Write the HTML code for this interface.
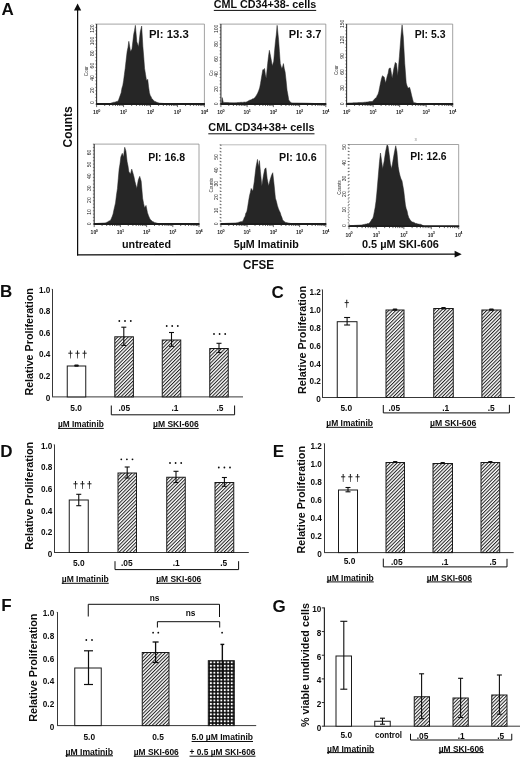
<!DOCTYPE html>
<html><head><meta charset="utf-8"><title>Figure</title>
<style>html,body{margin:0;padding:0;background:#fff;}svg{display:block;font-family:"Liberation Sans",sans-serif;will-change:transform;}</style>
</head><body>
<svg width="520" height="757" viewBox="0 0 520 757">
<defs>
<pattern id="hatch" width="2.47" height="2.47" patternUnits="userSpaceOnUse" patternTransform="rotate(-45)"><rect width="2.6" height="2.6" fill="#fff"/><rect x="0" y="0" width="2.6" height="1.02" fill="#222"/></pattern>
<pattern id="grid" x="209.15" y="660.55" width="3.47" height="3.47" patternUnits="userSpaceOnUse"><rect width="3.6" height="3.6" fill="#0d0d0d"/><rect x="0.78" y="0.78" width="1.94" height="1.94" fill="#fff"/></pattern>
</defs>
<rect width="520" height="757" fill="#fff"/>
<text x="1.50" y="14.80" font-size="17" text-anchor="start" font-weight="bold" fill="#0d0d0d" >A</text>
<line x1="77.60" y1="8.00" x2="77.60" y2="255.50" stroke="#0d0d0d" stroke-width="1.25"/>
<polygon points="77.6,3.4 74,10.5 81.2,10.5" fill="#0d0d0d"/>
<line x1="77.00" y1="254.85" x2="456.00" y2="254.15" stroke="#0d0d0d" stroke-width="1.4"/>
<polygon points="461.7,254.15 454.6,250.7 454.6,257.6" fill="#0d0d0d"/>
<text transform="translate(71.60,147.50) rotate(-90)" x="0" y="0" font-size="12" font-weight="bold" fill="#0d0d0d" textLength="41.20" lengthAdjust="spacingAndGlyphs">Counts</text>
<text x="243.00" y="269.40" font-size="12" font-weight="bold" fill="#0d0d0d" textLength="31.00" lengthAdjust="spacingAndGlyphs">CFSE</text>
<text x="213.80" y="8.10" font-size="11" font-weight="bold" fill="#0d0d0d" textLength="102.40" lengthAdjust="spacingAndGlyphs">CML CD34+38- cells</text>
<rect x="213.80" y="9.90" width="102.40" height="1" fill="#0d0d0d"/>
<text x="208.30" y="131.40" font-size="11" font-weight="bold" fill="#0d0d0d" textLength="106.20" lengthAdjust="spacingAndGlyphs">CML CD34+38+ cells</text>
<rect x="208.30" y="133.30" width="106.20" height="1" fill="#0d0d0d"/>
<text x="122.00" y="248.40" font-size="11" font-weight="bold" fill="#0d0d0d" textLength="49.00" lengthAdjust="spacingAndGlyphs">untreated</text>
<text x="233.70" y="248.20" font-size="11" font-weight="bold" fill="#0d0d0d" textLength="65.10" lengthAdjust="spacingAndGlyphs">5µM Imatinib</text>
<text x="362.00" y="248.20" font-size="11" font-weight="bold" fill="#0d0d0d" textLength="76.80" lengthAdjust="spacingAndGlyphs">0.5 µM SKI-606</text>
<polygon points="110.65,103.11 111.46,102.90 112.27,102.68 113.08,102.47 113.88,102.16 114.69,102.19 115.50,101.92 116.31,101.62 117.12,101.62 117.92,101.17 118.73,99.60 119.54,97.28 120.35,95.12 121.15,92.73 121.96,88.08 122.77,85.42 123.58,80.70 124.38,74.56 125.19,68.46 126.16,59.87 127.13,51.50 127.98,47.42 128.83,41.32 129.67,46.33 130.52,51.50 131.98,49.08 132.82,41.83 133.67,34.54 134.52,30.41 135.37,25.33 136.82,41.81 137.67,44.18 138.52,46.65 139.37,39.79 140.22,32.12 141.67,26.06 142.88,46.65 143.73,56.92 144.58,68.46 145.55,74.54 146.52,80.58 147.73,79.37 148.57,86.82 149.42,92.69 150.23,95.40 151.04,96.68 151.85,98.75 152.65,99.24 153.46,100.33 154.27,101.17 155.08,101.41 155.88,101.82 156.69,102.22 157.50,102.47 158.31,102.79 159.12,103.11 159.92,103.17 160.73,103.23 161.54,103.29 162.35,103.35 163.15,103.41 163.96,103.47 164.77,103.54 165.58,103.60 166.38,103.66 167.19,103.72 168.00,103.78 168.81,103.84 168.00,103.84 167.19,103.84 166.38,103.84 165.58,103.84 164.77,103.84 163.96,103.84 163.15,103.84 162.35,103.84 161.54,103.84 160.73,103.84 159.92,103.84 159.12,103.84 158.31,103.84 157.50,103.84 156.69,103.84 155.88,103.84 155.08,103.84 154.27,103.84 153.46,103.84 152.65,103.84 151.85,103.84 151.04,103.84 150.23,103.84 149.42,103.84 148.62,103.84 147.81,103.84 147.00,103.84 146.19,103.84 145.38,103.84 144.58,103.84 143.77,103.84 142.96,103.84 142.15,103.84 141.35,103.84 140.54,103.84 139.73,103.84 138.92,103.84 138.12,103.84 137.31,103.84 136.50,103.84 135.69,103.84 134.88,103.84 134.08,103.84 133.27,103.84 132.46,103.84 131.65,103.84 130.85,103.84 130.04,103.84 129.23,103.84 128.42,103.84 127.62,103.84 126.81,103.84 126.00,103.84 125.19,103.84 124.38,103.84 123.58,103.84 122.77,103.84 121.96,103.84 121.15,103.84 120.35,103.84 119.54,103.84 118.73,103.84 117.92,103.84 117.12,103.84 116.31,103.84 115.50,103.84 114.69,103.84 113.88,103.84 113.08,103.84 112.27,103.84 111.46,103.84 110.65,103.84" fill="#262626" stroke="#262626" stroke-width="0.5" stroke-linejoin="round"/>
<line x1="96.60" y1="24.10" x2="204.40" y2="24.10" stroke="#8c8c8c" stroke-width="0.8"/>
<line x1="204.40" y1="24.10" x2="204.40" y2="104.10" stroke="#8a8a8a" stroke-width="0.8"/>
<line x1="96.60" y1="24.10" x2="96.60" y2="104.10" stroke="#333" stroke-width="1.1"/>
<line x1="96.10" y1="104.00" x2="204.90" y2="104.00" stroke="#1c1c1c" stroke-width="1.9"/>
<line x1="95.30" y1="104.10" x2="96.60" y2="104.10" stroke="#333" stroke-width="0.6"/>
<line x1="95.30" y1="100.77" x2="96.60" y2="100.77" stroke="#333" stroke-width="0.6"/>
<line x1="95.30" y1="97.43" x2="96.60" y2="97.43" stroke="#333" stroke-width="0.6"/>
<line x1="95.30" y1="94.10" x2="96.60" y2="94.10" stroke="#333" stroke-width="0.6"/>
<line x1="95.30" y1="90.77" x2="96.60" y2="90.77" stroke="#333" stroke-width="0.6"/>
<line x1="95.30" y1="87.43" x2="96.60" y2="87.43" stroke="#333" stroke-width="0.6"/>
<line x1="95.30" y1="84.10" x2="96.60" y2="84.10" stroke="#333" stroke-width="0.6"/>
<line x1="95.30" y1="80.77" x2="96.60" y2="80.77" stroke="#333" stroke-width="0.6"/>
<line x1="95.30" y1="77.43" x2="96.60" y2="77.43" stroke="#333" stroke-width="0.6"/>
<line x1="95.30" y1="74.10" x2="96.60" y2="74.10" stroke="#333" stroke-width="0.6"/>
<line x1="95.30" y1="70.77" x2="96.60" y2="70.77" stroke="#333" stroke-width="0.6"/>
<line x1="95.30" y1="67.43" x2="96.60" y2="67.43" stroke="#333" stroke-width="0.6"/>
<line x1="95.30" y1="64.10" x2="96.60" y2="64.10" stroke="#333" stroke-width="0.6"/>
<line x1="95.30" y1="60.77" x2="96.60" y2="60.77" stroke="#333" stroke-width="0.6"/>
<line x1="95.30" y1="57.43" x2="96.60" y2="57.43" stroke="#333" stroke-width="0.6"/>
<line x1="95.30" y1="54.10" x2="96.60" y2="54.10" stroke="#333" stroke-width="0.6"/>
<line x1="95.30" y1="50.77" x2="96.60" y2="50.77" stroke="#333" stroke-width="0.6"/>
<line x1="95.30" y1="47.43" x2="96.60" y2="47.43" stroke="#333" stroke-width="0.6"/>
<line x1="95.30" y1="44.10" x2="96.60" y2="44.10" stroke="#333" stroke-width="0.6"/>
<line x1="95.30" y1="40.77" x2="96.60" y2="40.77" stroke="#333" stroke-width="0.6"/>
<line x1="95.30" y1="37.43" x2="96.60" y2="37.43" stroke="#333" stroke-width="0.6"/>
<line x1="95.30" y1="34.10" x2="96.60" y2="34.10" stroke="#333" stroke-width="0.6"/>
<line x1="95.30" y1="30.77" x2="96.60" y2="30.77" stroke="#333" stroke-width="0.6"/>
<line x1="95.30" y1="27.43" x2="96.60" y2="27.43" stroke="#333" stroke-width="0.6"/>
<line x1="95.30" y1="24.10" x2="96.60" y2="24.10" stroke="#333" stroke-width="0.6"/>
<line x1="96.60" y1="104.10" x2="96.60" y2="107.10" stroke="#222" stroke-width="0.7"/>
<line x1="104.71" y1="104.10" x2="104.71" y2="106.00" stroke="#222" stroke-width="0.7"/>
<line x1="109.46" y1="104.10" x2="109.46" y2="106.00" stroke="#222" stroke-width="0.7"/>
<line x1="112.83" y1="104.10" x2="112.83" y2="106.00" stroke="#222" stroke-width="0.7"/>
<line x1="115.44" y1="104.10" x2="115.44" y2="106.00" stroke="#222" stroke-width="0.7"/>
<line x1="117.57" y1="104.10" x2="117.57" y2="106.00" stroke="#222" stroke-width="0.7"/>
<line x1="119.38" y1="104.10" x2="119.38" y2="106.00" stroke="#222" stroke-width="0.7"/>
<line x1="120.94" y1="104.10" x2="120.94" y2="106.00" stroke="#222" stroke-width="0.7"/>
<line x1="122.32" y1="104.10" x2="122.32" y2="106.00" stroke="#222" stroke-width="0.7"/>
<line x1="123.55" y1="104.10" x2="123.55" y2="107.10" stroke="#222" stroke-width="0.7"/>
<line x1="131.66" y1="104.10" x2="131.66" y2="106.00" stroke="#222" stroke-width="0.7"/>
<line x1="136.41" y1="104.10" x2="136.41" y2="106.00" stroke="#222" stroke-width="0.7"/>
<line x1="139.78" y1="104.10" x2="139.78" y2="106.00" stroke="#222" stroke-width="0.7"/>
<line x1="142.39" y1="104.10" x2="142.39" y2="106.00" stroke="#222" stroke-width="0.7"/>
<line x1="144.52" y1="104.10" x2="144.52" y2="106.00" stroke="#222" stroke-width="0.7"/>
<line x1="146.33" y1="104.10" x2="146.33" y2="106.00" stroke="#222" stroke-width="0.7"/>
<line x1="147.89" y1="104.10" x2="147.89" y2="106.00" stroke="#222" stroke-width="0.7"/>
<line x1="149.27" y1="104.10" x2="149.27" y2="106.00" stroke="#222" stroke-width="0.7"/>
<line x1="150.50" y1="104.10" x2="150.50" y2="107.10" stroke="#222" stroke-width="0.7"/>
<line x1="158.61" y1="104.10" x2="158.61" y2="106.00" stroke="#222" stroke-width="0.7"/>
<line x1="163.36" y1="104.10" x2="163.36" y2="106.00" stroke="#222" stroke-width="0.7"/>
<line x1="166.73" y1="104.10" x2="166.73" y2="106.00" stroke="#222" stroke-width="0.7"/>
<line x1="169.34" y1="104.10" x2="169.34" y2="106.00" stroke="#222" stroke-width="0.7"/>
<line x1="171.47" y1="104.10" x2="171.47" y2="106.00" stroke="#222" stroke-width="0.7"/>
<line x1="173.28" y1="104.10" x2="173.28" y2="106.00" stroke="#222" stroke-width="0.7"/>
<line x1="174.84" y1="104.10" x2="174.84" y2="106.00" stroke="#222" stroke-width="0.7"/>
<line x1="176.22" y1="104.10" x2="176.22" y2="106.00" stroke="#222" stroke-width="0.7"/>
<line x1="177.45" y1="104.10" x2="177.45" y2="107.10" stroke="#222" stroke-width="0.7"/>
<line x1="185.56" y1="104.10" x2="185.56" y2="106.00" stroke="#222" stroke-width="0.7"/>
<line x1="190.31" y1="104.10" x2="190.31" y2="106.00" stroke="#222" stroke-width="0.7"/>
<line x1="193.68" y1="104.10" x2="193.68" y2="106.00" stroke="#222" stroke-width="0.7"/>
<line x1="196.29" y1="104.10" x2="196.29" y2="106.00" stroke="#222" stroke-width="0.7"/>
<line x1="198.42" y1="104.10" x2="198.42" y2="106.00" stroke="#222" stroke-width="0.7"/>
<line x1="200.23" y1="104.10" x2="200.23" y2="106.00" stroke="#222" stroke-width="0.7"/>
<line x1="201.79" y1="104.10" x2="201.79" y2="106.00" stroke="#222" stroke-width="0.7"/>
<line x1="203.17" y1="104.10" x2="203.17" y2="106.00" stroke="#222" stroke-width="0.7"/>
<line x1="204.40" y1="104.10" x2="204.40" y2="107.10" stroke="#222" stroke-width="0.7"/>
<text x="95.80" y="114.40" font-size="5" text-anchor="middle" font-weight="bold" fill="#222">10</text>
<text x="99.20" y="111.70" font-size="3.8" text-anchor="middle" font-weight="bold" fill="#222">0</text>
<text x="122.75" y="114.40" font-size="5" text-anchor="middle" font-weight="bold" fill="#222">10</text>
<text x="126.15" y="111.70" font-size="3.8" text-anchor="middle" font-weight="bold" fill="#222">1</text>
<text x="149.70" y="114.40" font-size="5" text-anchor="middle" font-weight="bold" fill="#222">10</text>
<text x="153.10" y="111.70" font-size="3.8" text-anchor="middle" font-weight="bold" fill="#222">2</text>
<text x="176.65" y="114.40" font-size="5" text-anchor="middle" font-weight="bold" fill="#222">10</text>
<text x="180.05" y="111.70" font-size="3.8" text-anchor="middle" font-weight="bold" fill="#222">3</text>
<text x="203.60" y="114.40" font-size="5" text-anchor="middle" font-weight="bold" fill="#222">10</text>
<text x="207.00" y="111.70" font-size="3.8" text-anchor="middle" font-weight="bold" fill="#222">4</text>
<text transform="translate(93.50,102.50) rotate(-90)" font-size="5" text-anchor="middle" font-weight="normal" fill="#1e1e1e">0</text>
<text transform="translate(93.50,90.20) rotate(-90)" font-size="5" text-anchor="middle" font-weight="normal" fill="#1e1e1e">20</text>
<text transform="translate(93.50,77.90) rotate(-90)" font-size="5" text-anchor="middle" font-weight="normal" fill="#1e1e1e">40</text>
<text transform="translate(93.50,65.60) rotate(-90)" font-size="5" text-anchor="middle" font-weight="normal" fill="#1e1e1e">60</text>
<text transform="translate(93.50,53.30) rotate(-90)" font-size="5" text-anchor="middle" font-weight="normal" fill="#1e1e1e">80</text>
<text transform="translate(93.50,41.00) rotate(-90)" font-size="5" text-anchor="middle" font-weight="normal" fill="#1e1e1e">100</text>
<text transform="translate(93.50,28.70) rotate(-90)" font-size="5" text-anchor="middle" font-weight="normal" fill="#1e1e1e">120</text>
<text transform="translate(88.40,71.20) rotate(-90)" font-size="4.6" text-anchor="middle" font-weight="normal" fill="#2a2a2a">Cour</text>
<text x="149.00" y="38.20" font-size="11.4" font-weight="bold" fill="#0d0d0d" textLength="39.70" lengthAdjust="spacingAndGlyphs">PI: 13.3</text>
<polygon points="221.63,103.84 222.12,97.54 223.33,102.38 224.17,102.42 225.00,102.46 225.84,102.50 226.68,102.53 227.52,102.57 228.36,102.61 229.20,102.65 230.04,102.68 230.88,102.72 231.71,102.76 232.55,102.79 233.39,102.83 234.23,102.87 235.04,102.80 235.85,102.74 236.65,102.68 237.46,102.61 238.27,102.55 239.08,102.48 239.88,102.42 240.69,102.35 241.50,102.31 242.31,102.39 243.12,102.29 243.92,102.16 244.73,102.09 245.54,102.16 246.35,101.90 247.15,101.77 247.96,101.06 248.77,100.70 249.58,100.24 250.38,100.01 251.19,99.74 252.00,99.36 252.81,98.72 253.62,98.75 254.52,97.77 255.43,97.09 256.34,95.42 257.25,93.90 258.06,92.24 258.87,90.16 259.67,87.85 260.52,83.50 261.37,78.15 262.82,69.67 263.67,69.74 264.52,68.46 265.37,74.56 266.22,78.15 267.67,63.62 268.52,56.23 269.37,50.29 270.58,56.35 271.42,60.81 272.27,66.04 273.73,61.19 274.57,50.90 275.42,41.81 276.27,34.82 277.12,25.33 278.57,39.38 279.42,51.26 280.27,63.62 281.72,68.46 282.57,67.01 283.42,63.62 284.27,68.62 285.12,72.10 286.08,80.43 287.05,90.27 287.90,94.75 288.75,99.96 289.56,101.12 290.37,101.96 291.17,102.87 292.01,102.88 292.84,102.90 293.67,102.91 294.50,102.93 295.34,102.94 296.17,102.96 297.00,102.97 297.84,102.99 298.67,103.01 299.50,103.02 300.33,103.04 301.17,103.05 302.00,103.07 302.83,103.08 303.67,103.10 304.50,103.11 305.31,103.14 306.12,103.17 306.92,103.20 307.73,103.23 308.54,103.26 309.35,103.29 310.15,103.32 310.96,103.35 311.77,103.38 312.58,103.41 313.38,103.44 314.19,103.47 315.00,103.50 315.81,103.54 316.61,103.57 317.42,103.60 318.23,103.63 319.04,103.66 319.85,103.69 320.65,103.72 321.46,103.75 322.27,103.78 323.08,103.81 323.88,103.84" fill="#262626" stroke="#262626" stroke-width="0.5" stroke-linejoin="round"/>
<line x1="220.90" y1="24.10" x2="325.80" y2="24.10" stroke="#8c8c8c" stroke-width="0.8"/>
<line x1="325.80" y1="24.10" x2="325.80" y2="104.10" stroke="#8a8a8a" stroke-width="0.8"/>
<line x1="220.90" y1="24.10" x2="220.90" y2="104.10" stroke="#333" stroke-width="1.1"/>
<line x1="220.40" y1="104.00" x2="326.30" y2="104.00" stroke="#1c1c1c" stroke-width="1.9"/>
<line x1="219.60" y1="104.10" x2="220.90" y2="104.10" stroke="#333" stroke-width="0.6"/>
<line x1="219.60" y1="100.77" x2="220.90" y2="100.77" stroke="#333" stroke-width="0.6"/>
<line x1="219.60" y1="97.43" x2="220.90" y2="97.43" stroke="#333" stroke-width="0.6"/>
<line x1="219.60" y1="94.10" x2="220.90" y2="94.10" stroke="#333" stroke-width="0.6"/>
<line x1="219.60" y1="90.77" x2="220.90" y2="90.77" stroke="#333" stroke-width="0.6"/>
<line x1="219.60" y1="87.43" x2="220.90" y2="87.43" stroke="#333" stroke-width="0.6"/>
<line x1="219.60" y1="84.10" x2="220.90" y2="84.10" stroke="#333" stroke-width="0.6"/>
<line x1="219.60" y1="80.77" x2="220.90" y2="80.77" stroke="#333" stroke-width="0.6"/>
<line x1="219.60" y1="77.43" x2="220.90" y2="77.43" stroke="#333" stroke-width="0.6"/>
<line x1="219.60" y1="74.10" x2="220.90" y2="74.10" stroke="#333" stroke-width="0.6"/>
<line x1="219.60" y1="70.77" x2="220.90" y2="70.77" stroke="#333" stroke-width="0.6"/>
<line x1="219.60" y1="67.43" x2="220.90" y2="67.43" stroke="#333" stroke-width="0.6"/>
<line x1="219.60" y1="64.10" x2="220.90" y2="64.10" stroke="#333" stroke-width="0.6"/>
<line x1="219.60" y1="60.77" x2="220.90" y2="60.77" stroke="#333" stroke-width="0.6"/>
<line x1="219.60" y1="57.43" x2="220.90" y2="57.43" stroke="#333" stroke-width="0.6"/>
<line x1="219.60" y1="54.10" x2="220.90" y2="54.10" stroke="#333" stroke-width="0.6"/>
<line x1="219.60" y1="50.77" x2="220.90" y2="50.77" stroke="#333" stroke-width="0.6"/>
<line x1="219.60" y1="47.43" x2="220.90" y2="47.43" stroke="#333" stroke-width="0.6"/>
<line x1="219.60" y1="44.10" x2="220.90" y2="44.10" stroke="#333" stroke-width="0.6"/>
<line x1="219.60" y1="40.77" x2="220.90" y2="40.77" stroke="#333" stroke-width="0.6"/>
<line x1="219.60" y1="37.43" x2="220.90" y2="37.43" stroke="#333" stroke-width="0.6"/>
<line x1="219.60" y1="34.10" x2="220.90" y2="34.10" stroke="#333" stroke-width="0.6"/>
<line x1="219.60" y1="30.77" x2="220.90" y2="30.77" stroke="#333" stroke-width="0.6"/>
<line x1="219.60" y1="27.43" x2="220.90" y2="27.43" stroke="#333" stroke-width="0.6"/>
<line x1="219.60" y1="24.10" x2="220.90" y2="24.10" stroke="#333" stroke-width="0.6"/>
<line x1="220.90" y1="104.10" x2="220.90" y2="107.10" stroke="#222" stroke-width="0.7"/>
<line x1="228.79" y1="104.10" x2="228.79" y2="106.00" stroke="#222" stroke-width="0.7"/>
<line x1="233.41" y1="104.10" x2="233.41" y2="106.00" stroke="#222" stroke-width="0.7"/>
<line x1="236.69" y1="104.10" x2="236.69" y2="106.00" stroke="#222" stroke-width="0.7"/>
<line x1="239.23" y1="104.10" x2="239.23" y2="106.00" stroke="#222" stroke-width="0.7"/>
<line x1="241.31" y1="104.10" x2="241.31" y2="106.00" stroke="#222" stroke-width="0.7"/>
<line x1="243.06" y1="104.10" x2="243.06" y2="106.00" stroke="#222" stroke-width="0.7"/>
<line x1="244.58" y1="104.10" x2="244.58" y2="106.00" stroke="#222" stroke-width="0.7"/>
<line x1="245.93" y1="104.10" x2="245.93" y2="106.00" stroke="#222" stroke-width="0.7"/>
<line x1="247.12" y1="104.10" x2="247.12" y2="107.10" stroke="#222" stroke-width="0.7"/>
<line x1="255.02" y1="104.10" x2="255.02" y2="106.00" stroke="#222" stroke-width="0.7"/>
<line x1="259.64" y1="104.10" x2="259.64" y2="106.00" stroke="#222" stroke-width="0.7"/>
<line x1="262.91" y1="104.10" x2="262.91" y2="106.00" stroke="#222" stroke-width="0.7"/>
<line x1="265.46" y1="104.10" x2="265.46" y2="106.00" stroke="#222" stroke-width="0.7"/>
<line x1="267.53" y1="104.10" x2="267.53" y2="106.00" stroke="#222" stroke-width="0.7"/>
<line x1="269.29" y1="104.10" x2="269.29" y2="106.00" stroke="#222" stroke-width="0.7"/>
<line x1="270.81" y1="104.10" x2="270.81" y2="106.00" stroke="#222" stroke-width="0.7"/>
<line x1="272.15" y1="104.10" x2="272.15" y2="106.00" stroke="#222" stroke-width="0.7"/>
<line x1="273.35" y1="104.10" x2="273.35" y2="107.10" stroke="#222" stroke-width="0.7"/>
<line x1="281.24" y1="104.10" x2="281.24" y2="106.00" stroke="#222" stroke-width="0.7"/>
<line x1="285.86" y1="104.10" x2="285.86" y2="106.00" stroke="#222" stroke-width="0.7"/>
<line x1="289.14" y1="104.10" x2="289.14" y2="106.00" stroke="#222" stroke-width="0.7"/>
<line x1="291.68" y1="104.10" x2="291.68" y2="106.00" stroke="#222" stroke-width="0.7"/>
<line x1="293.76" y1="104.10" x2="293.76" y2="106.00" stroke="#222" stroke-width="0.7"/>
<line x1="295.51" y1="104.10" x2="295.51" y2="106.00" stroke="#222" stroke-width="0.7"/>
<line x1="297.03" y1="104.10" x2="297.03" y2="106.00" stroke="#222" stroke-width="0.7"/>
<line x1="298.38" y1="104.10" x2="298.38" y2="106.00" stroke="#222" stroke-width="0.7"/>
<line x1="299.58" y1="104.10" x2="299.58" y2="107.10" stroke="#222" stroke-width="0.7"/>
<line x1="307.47" y1="104.10" x2="307.47" y2="106.00" stroke="#222" stroke-width="0.7"/>
<line x1="312.09" y1="104.10" x2="312.09" y2="106.00" stroke="#222" stroke-width="0.7"/>
<line x1="315.36" y1="104.10" x2="315.36" y2="106.00" stroke="#222" stroke-width="0.7"/>
<line x1="317.91" y1="104.10" x2="317.91" y2="106.00" stroke="#222" stroke-width="0.7"/>
<line x1="319.98" y1="104.10" x2="319.98" y2="106.00" stroke="#222" stroke-width="0.7"/>
<line x1="321.74" y1="104.10" x2="321.74" y2="106.00" stroke="#222" stroke-width="0.7"/>
<line x1="323.26" y1="104.10" x2="323.26" y2="106.00" stroke="#222" stroke-width="0.7"/>
<line x1="324.60" y1="104.10" x2="324.60" y2="106.00" stroke="#222" stroke-width="0.7"/>
<line x1="325.80" y1="104.10" x2="325.80" y2="107.10" stroke="#222" stroke-width="0.7"/>
<text x="220.10" y="114.40" font-size="5" text-anchor="middle" font-weight="bold" fill="#222">10</text>
<text x="223.50" y="111.70" font-size="3.8" text-anchor="middle" font-weight="bold" fill="#222">0</text>
<text x="246.32" y="114.40" font-size="5" text-anchor="middle" font-weight="bold" fill="#222">10</text>
<text x="249.72" y="111.70" font-size="3.8" text-anchor="middle" font-weight="bold" fill="#222">1</text>
<text x="272.55" y="114.40" font-size="5" text-anchor="middle" font-weight="bold" fill="#222">10</text>
<text x="275.95" y="111.70" font-size="3.8" text-anchor="middle" font-weight="bold" fill="#222">2</text>
<text x="298.78" y="114.40" font-size="5" text-anchor="middle" font-weight="bold" fill="#222">10</text>
<text x="302.18" y="111.70" font-size="3.8" text-anchor="middle" font-weight="bold" fill="#222">3</text>
<text x="325.00" y="114.40" font-size="5" text-anchor="middle" font-weight="bold" fill="#222">10</text>
<text x="328.40" y="111.70" font-size="3.8" text-anchor="middle" font-weight="bold" fill="#222">4</text>
<text transform="translate(217.80,103.90) rotate(-90)" font-size="5" text-anchor="middle" font-weight="normal" fill="#1e1e1e">0</text>
<text transform="translate(217.80,88.90) rotate(-90)" font-size="5" text-anchor="middle" font-weight="normal" fill="#1e1e1e">20</text>
<text transform="translate(217.80,73.90) rotate(-90)" font-size="5" text-anchor="middle" font-weight="normal" fill="#1e1e1e">40</text>
<text transform="translate(217.80,58.90) rotate(-90)" font-size="5" text-anchor="middle" font-weight="normal" fill="#1e1e1e">60</text>
<text transform="translate(217.80,43.90) rotate(-90)" font-size="5" text-anchor="middle" font-weight="normal" fill="#1e1e1e">80</text>
<text transform="translate(217.80,28.90) rotate(-90)" font-size="5" text-anchor="middle" font-weight="normal" fill="#1e1e1e">100</text>
<text transform="translate(212.70,73.10) rotate(-90)" font-size="4.6" text-anchor="middle" font-weight="normal" fill="#2a2a2a">Co</text>
<text x="288.75" y="38.20" font-size="11.4" font-weight="bold" fill="#0d0d0d" textLength="32.75" lengthAdjust="spacingAndGlyphs">PI: 3.7</text>
<polygon points="347.33,103.84 347.33,103.11 348.16,103.07 348.98,103.03 349.81,103.00 350.64,102.96 351.47,102.92 352.30,102.88 353.13,102.84 353.96,102.81 354.79,102.77 355.62,102.73 356.45,102.69 357.27,102.65 358.10,102.61 358.93,102.58 359.76,102.54 360.59,102.50 361.42,102.46 362.25,102.42 363.08,102.38 363.88,102.37 364.69,102.19 365.50,102.17 366.31,102.12 367.12,101.96 367.92,101.93 368.73,101.80 369.54,101.55 370.35,101.61 371.15,101.51 371.96,101.52 372.77,101.17 373.68,100.07 374.59,99.09 375.50,98.12 376.40,97.54 377.21,95.46 378.02,94.21 378.83,91.48 379.67,87.19 380.52,83.00 381.49,78.47 382.46,75.73 383.31,76.44 384.16,76.94 385.61,83.00 386.46,79.30 387.31,75.73 388.16,73.18 389.00,68.46 390.46,67.98 391.31,72.94 392.15,78.15 393.00,73.52 393.85,68.46 395.30,62.40 396.52,63.62 397.73,75.73 398.57,66.14 399.42,56.35 400.27,44.90 401.12,34.54 402.09,24.85 403.30,36.96 404.75,63.62 406.21,83.00 407.06,85.87 407.90,87.85 408.75,87.94 409.60,87.36 410.57,90.76 411.54,95.12 412.51,98.91 413.48,102.38 414.30,102.63 415.12,102.87 415.95,103.11 416.77,103.35 417.60,103.60 418.41,103.60 419.23,103.61 420.05,103.61 420.87,103.62 421.68,103.63 422.50,103.63 423.32,103.64 424.14,103.64 424.96,103.65 425.77,103.66 426.59,103.66 427.41,103.67 428.23,103.67 429.04,103.68 429.86,103.69 430.68,103.69 431.50,103.70 432.32,103.70 433.13,103.71 433.95,103.72 434.77,103.72 435.59,103.73 436.40,103.74 437.22,103.74 438.04,103.75 438.86,103.75 439.68,103.76 440.49,103.77 441.31,103.77 442.13,103.78 442.95,103.78 443.76,103.79 444.58,103.80 445.40,103.80 446.22,103.81 447.04,103.81 447.85,103.82 448.67,103.83 449.49,103.83 450.31,103.84" fill="#262626" stroke="#262626" stroke-width="0.5" stroke-linejoin="round"/>
<line x1="346.60" y1="24.10" x2="452.70" y2="24.10" stroke="#8c8c8c" stroke-width="0.8"/>
<line x1="452.70" y1="24.10" x2="452.70" y2="104.10" stroke="#8a8a8a" stroke-width="0.8"/>
<line x1="346.60" y1="24.10" x2="346.60" y2="104.10" stroke="#333" stroke-width="1.1"/>
<line x1="346.10" y1="104.00" x2="453.20" y2="104.00" stroke="#1c1c1c" stroke-width="1.9"/>
<line x1="345.30" y1="104.10" x2="346.60" y2="104.10" stroke="#333" stroke-width="0.6"/>
<line x1="345.30" y1="100.77" x2="346.60" y2="100.77" stroke="#333" stroke-width="0.6"/>
<line x1="345.30" y1="97.43" x2="346.60" y2="97.43" stroke="#333" stroke-width="0.6"/>
<line x1="345.30" y1="94.10" x2="346.60" y2="94.10" stroke="#333" stroke-width="0.6"/>
<line x1="345.30" y1="90.77" x2="346.60" y2="90.77" stroke="#333" stroke-width="0.6"/>
<line x1="345.30" y1="87.43" x2="346.60" y2="87.43" stroke="#333" stroke-width="0.6"/>
<line x1="345.30" y1="84.10" x2="346.60" y2="84.10" stroke="#333" stroke-width="0.6"/>
<line x1="345.30" y1="80.77" x2="346.60" y2="80.77" stroke="#333" stroke-width="0.6"/>
<line x1="345.30" y1="77.43" x2="346.60" y2="77.43" stroke="#333" stroke-width="0.6"/>
<line x1="345.30" y1="74.10" x2="346.60" y2="74.10" stroke="#333" stroke-width="0.6"/>
<line x1="345.30" y1="70.77" x2="346.60" y2="70.77" stroke="#333" stroke-width="0.6"/>
<line x1="345.30" y1="67.43" x2="346.60" y2="67.43" stroke="#333" stroke-width="0.6"/>
<line x1="345.30" y1="64.10" x2="346.60" y2="64.10" stroke="#333" stroke-width="0.6"/>
<line x1="345.30" y1="60.77" x2="346.60" y2="60.77" stroke="#333" stroke-width="0.6"/>
<line x1="345.30" y1="57.43" x2="346.60" y2="57.43" stroke="#333" stroke-width="0.6"/>
<line x1="345.30" y1="54.10" x2="346.60" y2="54.10" stroke="#333" stroke-width="0.6"/>
<line x1="345.30" y1="50.77" x2="346.60" y2="50.77" stroke="#333" stroke-width="0.6"/>
<line x1="345.30" y1="47.43" x2="346.60" y2="47.43" stroke="#333" stroke-width="0.6"/>
<line x1="345.30" y1="44.10" x2="346.60" y2="44.10" stroke="#333" stroke-width="0.6"/>
<line x1="345.30" y1="40.77" x2="346.60" y2="40.77" stroke="#333" stroke-width="0.6"/>
<line x1="345.30" y1="37.43" x2="346.60" y2="37.43" stroke="#333" stroke-width="0.6"/>
<line x1="345.30" y1="34.10" x2="346.60" y2="34.10" stroke="#333" stroke-width="0.6"/>
<line x1="345.30" y1="30.77" x2="346.60" y2="30.77" stroke="#333" stroke-width="0.6"/>
<line x1="345.30" y1="27.43" x2="346.60" y2="27.43" stroke="#333" stroke-width="0.6"/>
<line x1="345.30" y1="24.10" x2="346.60" y2="24.10" stroke="#333" stroke-width="0.6"/>
<line x1="346.60" y1="104.10" x2="346.60" y2="107.10" stroke="#222" stroke-width="0.7"/>
<line x1="354.58" y1="104.10" x2="354.58" y2="106.00" stroke="#222" stroke-width="0.7"/>
<line x1="359.26" y1="104.10" x2="359.26" y2="106.00" stroke="#222" stroke-width="0.7"/>
<line x1="362.57" y1="104.10" x2="362.57" y2="106.00" stroke="#222" stroke-width="0.7"/>
<line x1="365.14" y1="104.10" x2="365.14" y2="106.00" stroke="#222" stroke-width="0.7"/>
<line x1="367.24" y1="104.10" x2="367.24" y2="106.00" stroke="#222" stroke-width="0.7"/>
<line x1="369.02" y1="104.10" x2="369.02" y2="106.00" stroke="#222" stroke-width="0.7"/>
<line x1="370.55" y1="104.10" x2="370.55" y2="106.00" stroke="#222" stroke-width="0.7"/>
<line x1="371.91" y1="104.10" x2="371.91" y2="106.00" stroke="#222" stroke-width="0.7"/>
<line x1="373.12" y1="104.10" x2="373.12" y2="107.10" stroke="#222" stroke-width="0.7"/>
<line x1="381.11" y1="104.10" x2="381.11" y2="106.00" stroke="#222" stroke-width="0.7"/>
<line x1="385.78" y1="104.10" x2="385.78" y2="106.00" stroke="#222" stroke-width="0.7"/>
<line x1="389.09" y1="104.10" x2="389.09" y2="106.00" stroke="#222" stroke-width="0.7"/>
<line x1="391.67" y1="104.10" x2="391.67" y2="106.00" stroke="#222" stroke-width="0.7"/>
<line x1="393.77" y1="104.10" x2="393.77" y2="106.00" stroke="#222" stroke-width="0.7"/>
<line x1="395.54" y1="104.10" x2="395.54" y2="106.00" stroke="#222" stroke-width="0.7"/>
<line x1="397.08" y1="104.10" x2="397.08" y2="106.00" stroke="#222" stroke-width="0.7"/>
<line x1="398.44" y1="104.10" x2="398.44" y2="106.00" stroke="#222" stroke-width="0.7"/>
<line x1="399.65" y1="104.10" x2="399.65" y2="107.10" stroke="#222" stroke-width="0.7"/>
<line x1="407.63" y1="104.10" x2="407.63" y2="106.00" stroke="#222" stroke-width="0.7"/>
<line x1="412.31" y1="104.10" x2="412.31" y2="106.00" stroke="#222" stroke-width="0.7"/>
<line x1="415.62" y1="104.10" x2="415.62" y2="106.00" stroke="#222" stroke-width="0.7"/>
<line x1="418.19" y1="104.10" x2="418.19" y2="106.00" stroke="#222" stroke-width="0.7"/>
<line x1="420.29" y1="104.10" x2="420.29" y2="106.00" stroke="#222" stroke-width="0.7"/>
<line x1="422.07" y1="104.10" x2="422.07" y2="106.00" stroke="#222" stroke-width="0.7"/>
<line x1="423.60" y1="104.10" x2="423.60" y2="106.00" stroke="#222" stroke-width="0.7"/>
<line x1="424.96" y1="104.10" x2="424.96" y2="106.00" stroke="#222" stroke-width="0.7"/>
<line x1="426.18" y1="104.10" x2="426.18" y2="107.10" stroke="#222" stroke-width="0.7"/>
<line x1="434.16" y1="104.10" x2="434.16" y2="106.00" stroke="#222" stroke-width="0.7"/>
<line x1="438.83" y1="104.10" x2="438.83" y2="106.00" stroke="#222" stroke-width="0.7"/>
<line x1="442.14" y1="104.10" x2="442.14" y2="106.00" stroke="#222" stroke-width="0.7"/>
<line x1="444.72" y1="104.10" x2="444.72" y2="106.00" stroke="#222" stroke-width="0.7"/>
<line x1="446.82" y1="104.10" x2="446.82" y2="106.00" stroke="#222" stroke-width="0.7"/>
<line x1="448.59" y1="104.10" x2="448.59" y2="106.00" stroke="#222" stroke-width="0.7"/>
<line x1="450.13" y1="104.10" x2="450.13" y2="106.00" stroke="#222" stroke-width="0.7"/>
<line x1="451.49" y1="104.10" x2="451.49" y2="106.00" stroke="#222" stroke-width="0.7"/>
<line x1="452.70" y1="104.10" x2="452.70" y2="107.10" stroke="#222" stroke-width="0.7"/>
<text x="345.80" y="114.40" font-size="5" text-anchor="middle" font-weight="bold" fill="#222">10</text>
<text x="349.20" y="111.70" font-size="3.8" text-anchor="middle" font-weight="bold" fill="#222">0</text>
<text x="372.32" y="114.40" font-size="5" text-anchor="middle" font-weight="bold" fill="#222">10</text>
<text x="375.73" y="111.70" font-size="3.8" text-anchor="middle" font-weight="bold" fill="#222">1</text>
<text x="398.85" y="114.40" font-size="5" text-anchor="middle" font-weight="bold" fill="#222">10</text>
<text x="402.25" y="111.70" font-size="3.8" text-anchor="middle" font-weight="bold" fill="#222">2</text>
<text x="425.38" y="114.40" font-size="5" text-anchor="middle" font-weight="bold" fill="#222">10</text>
<text x="428.78" y="111.70" font-size="3.8" text-anchor="middle" font-weight="bold" fill="#222">3</text>
<text x="451.90" y="114.40" font-size="5" text-anchor="middle" font-weight="bold" fill="#222">10</text>
<text x="455.30" y="111.70" font-size="3.8" text-anchor="middle" font-weight="bold" fill="#222">4</text>
<text transform="translate(343.50,103.90) rotate(-90)" font-size="5" text-anchor="middle" font-weight="normal" fill="#1e1e1e">0</text>
<text transform="translate(343.50,87.90) rotate(-90)" font-size="5" text-anchor="middle" font-weight="normal" fill="#1e1e1e">30</text>
<text transform="translate(343.50,71.90) rotate(-90)" font-size="5" text-anchor="middle" font-weight="normal" fill="#1e1e1e">60</text>
<text transform="translate(343.50,55.90) rotate(-90)" font-size="5" text-anchor="middle" font-weight="normal" fill="#1e1e1e">90</text>
<text transform="translate(343.50,39.90) rotate(-90)" font-size="5" text-anchor="middle" font-weight="normal" fill="#1e1e1e">120</text>
<text transform="translate(343.50,23.90) rotate(-90)" font-size="5" text-anchor="middle" font-weight="normal" fill="#1e1e1e">150</text>
<text transform="translate(338.40,70.10) rotate(-90)" font-size="4.6" text-anchor="middle" font-weight="normal" fill="#2a2a2a">Cour</text>
<text x="414.70" y="38.20" font-size="11.4" font-weight="bold" fill="#0d0d0d" textLength="30.80" lengthAdjust="spacingAndGlyphs">PI: 5.3</text>
<polygon points="94.90,223.84 94.90,223.60 95.74,223.54 96.58,223.48 97.42,223.43 98.26,223.37 99.10,223.32 99.94,223.26 100.78,223.20 101.61,223.15 102.45,223.09 103.29,223.04 104.13,222.98 104.97,222.92 105.81,222.87 106.62,222.38 107.42,222.08 108.23,221.42 109.04,221.04 109.85,220.78 110.65,219.96 111.46,218.17 112.27,216.31 113.08,213.90 113.88,210.06 114.69,206.39 115.50,203.00 116.47,195.09 117.44,188.46 118.29,178.59 119.13,169.08 119.98,164.05 120.83,156.96 122.28,153.33 123.50,156.96 124.71,147.27 125.92,150.90 127.13,161.81 127.98,165.82 128.83,171.50 129.67,172.99 130.52,173.92 131.73,169.08 133.19,173.92 134.04,177.11 134.88,181.19 135.85,184.91 136.82,188.46 138.28,179.98 139.73,176.35 141.18,181.19 142.64,198.15 143.61,203.52 144.58,207.85 146.03,205.42 147.48,212.69 148.53,215.67 149.58,218.16 150.63,219.96 151.54,220.51 152.45,221.43 153.36,221.80 154.27,222.38 155.08,222.63 155.88,222.87 156.69,223.11 157.50,223.35 158.31,223.60 159.12,223.84" fill="#262626" stroke="#262626" stroke-width="0.5" stroke-linejoin="round"/>
<line x1="94.20" y1="144.10" x2="199.00" y2="144.10" stroke="#8c8c8c" stroke-width="0.8"/>
<line x1="199.00" y1="144.10" x2="199.00" y2="224.10" stroke="#8a8a8a" stroke-width="0.8"/>
<line x1="94.20" y1="144.10" x2="94.20" y2="224.10" stroke="#333" stroke-width="1.1"/>
<line x1="93.70" y1="224.00" x2="199.50" y2="224.00" stroke="#1c1c1c" stroke-width="1.9"/>
<line x1="92.90" y1="224.10" x2="94.20" y2="224.10" stroke="#333" stroke-width="0.6"/>
<line x1="92.90" y1="220.77" x2="94.20" y2="220.77" stroke="#333" stroke-width="0.6"/>
<line x1="92.90" y1="217.43" x2="94.20" y2="217.43" stroke="#333" stroke-width="0.6"/>
<line x1="92.90" y1="214.10" x2="94.20" y2="214.10" stroke="#333" stroke-width="0.6"/>
<line x1="92.90" y1="210.77" x2="94.20" y2="210.77" stroke="#333" stroke-width="0.6"/>
<line x1="92.90" y1="207.43" x2="94.20" y2="207.43" stroke="#333" stroke-width="0.6"/>
<line x1="92.90" y1="204.10" x2="94.20" y2="204.10" stroke="#333" stroke-width="0.6"/>
<line x1="92.90" y1="200.77" x2="94.20" y2="200.77" stroke="#333" stroke-width="0.6"/>
<line x1="92.90" y1="197.43" x2="94.20" y2="197.43" stroke="#333" stroke-width="0.6"/>
<line x1="92.90" y1="194.10" x2="94.20" y2="194.10" stroke="#333" stroke-width="0.6"/>
<line x1="92.90" y1="190.77" x2="94.20" y2="190.77" stroke="#333" stroke-width="0.6"/>
<line x1="92.90" y1="187.43" x2="94.20" y2="187.43" stroke="#333" stroke-width="0.6"/>
<line x1="92.90" y1="184.10" x2="94.20" y2="184.10" stroke="#333" stroke-width="0.6"/>
<line x1="92.90" y1="180.77" x2="94.20" y2="180.77" stroke="#333" stroke-width="0.6"/>
<line x1="92.90" y1="177.43" x2="94.20" y2="177.43" stroke="#333" stroke-width="0.6"/>
<line x1="92.90" y1="174.10" x2="94.20" y2="174.10" stroke="#333" stroke-width="0.6"/>
<line x1="92.90" y1="170.77" x2="94.20" y2="170.77" stroke="#333" stroke-width="0.6"/>
<line x1="92.90" y1="167.43" x2="94.20" y2="167.43" stroke="#333" stroke-width="0.6"/>
<line x1="92.90" y1="164.10" x2="94.20" y2="164.10" stroke="#333" stroke-width="0.6"/>
<line x1="92.90" y1="160.77" x2="94.20" y2="160.77" stroke="#333" stroke-width="0.6"/>
<line x1="92.90" y1="157.43" x2="94.20" y2="157.43" stroke="#333" stroke-width="0.6"/>
<line x1="92.90" y1="154.10" x2="94.20" y2="154.10" stroke="#333" stroke-width="0.6"/>
<line x1="92.90" y1="150.77" x2="94.20" y2="150.77" stroke="#333" stroke-width="0.6"/>
<line x1="92.90" y1="147.43" x2="94.20" y2="147.43" stroke="#333" stroke-width="0.6"/>
<line x1="92.90" y1="144.10" x2="94.20" y2="144.10" stroke="#333" stroke-width="0.6"/>
<line x1="94.20" y1="224.10" x2="94.20" y2="227.10" stroke="#222" stroke-width="0.7"/>
<line x1="102.09" y1="224.10" x2="102.09" y2="226.00" stroke="#222" stroke-width="0.7"/>
<line x1="106.70" y1="224.10" x2="106.70" y2="226.00" stroke="#222" stroke-width="0.7"/>
<line x1="109.97" y1="224.10" x2="109.97" y2="226.00" stroke="#222" stroke-width="0.7"/>
<line x1="112.51" y1="224.10" x2="112.51" y2="226.00" stroke="#222" stroke-width="0.7"/>
<line x1="114.59" y1="224.10" x2="114.59" y2="226.00" stroke="#222" stroke-width="0.7"/>
<line x1="116.34" y1="224.10" x2="116.34" y2="226.00" stroke="#222" stroke-width="0.7"/>
<line x1="117.86" y1="224.10" x2="117.86" y2="226.00" stroke="#222" stroke-width="0.7"/>
<line x1="119.20" y1="224.10" x2="119.20" y2="226.00" stroke="#222" stroke-width="0.7"/>
<line x1="120.40" y1="224.10" x2="120.40" y2="227.10" stroke="#222" stroke-width="0.7"/>
<line x1="128.29" y1="224.10" x2="128.29" y2="226.00" stroke="#222" stroke-width="0.7"/>
<line x1="132.90" y1="224.10" x2="132.90" y2="226.00" stroke="#222" stroke-width="0.7"/>
<line x1="136.17" y1="224.10" x2="136.17" y2="226.00" stroke="#222" stroke-width="0.7"/>
<line x1="138.71" y1="224.10" x2="138.71" y2="226.00" stroke="#222" stroke-width="0.7"/>
<line x1="140.79" y1="224.10" x2="140.79" y2="226.00" stroke="#222" stroke-width="0.7"/>
<line x1="142.54" y1="224.10" x2="142.54" y2="226.00" stroke="#222" stroke-width="0.7"/>
<line x1="144.06" y1="224.10" x2="144.06" y2="226.00" stroke="#222" stroke-width="0.7"/>
<line x1="145.40" y1="224.10" x2="145.40" y2="226.00" stroke="#222" stroke-width="0.7"/>
<line x1="146.60" y1="224.10" x2="146.60" y2="227.10" stroke="#222" stroke-width="0.7"/>
<line x1="154.49" y1="224.10" x2="154.49" y2="226.00" stroke="#222" stroke-width="0.7"/>
<line x1="159.10" y1="224.10" x2="159.10" y2="226.00" stroke="#222" stroke-width="0.7"/>
<line x1="162.37" y1="224.10" x2="162.37" y2="226.00" stroke="#222" stroke-width="0.7"/>
<line x1="164.91" y1="224.10" x2="164.91" y2="226.00" stroke="#222" stroke-width="0.7"/>
<line x1="166.99" y1="224.10" x2="166.99" y2="226.00" stroke="#222" stroke-width="0.7"/>
<line x1="168.74" y1="224.10" x2="168.74" y2="226.00" stroke="#222" stroke-width="0.7"/>
<line x1="170.26" y1="224.10" x2="170.26" y2="226.00" stroke="#222" stroke-width="0.7"/>
<line x1="171.60" y1="224.10" x2="171.60" y2="226.00" stroke="#222" stroke-width="0.7"/>
<line x1="172.80" y1="224.10" x2="172.80" y2="227.10" stroke="#222" stroke-width="0.7"/>
<line x1="180.69" y1="224.10" x2="180.69" y2="226.00" stroke="#222" stroke-width="0.7"/>
<line x1="185.30" y1="224.10" x2="185.30" y2="226.00" stroke="#222" stroke-width="0.7"/>
<line x1="188.57" y1="224.10" x2="188.57" y2="226.00" stroke="#222" stroke-width="0.7"/>
<line x1="191.11" y1="224.10" x2="191.11" y2="226.00" stroke="#222" stroke-width="0.7"/>
<line x1="193.19" y1="224.10" x2="193.19" y2="226.00" stroke="#222" stroke-width="0.7"/>
<line x1="194.94" y1="224.10" x2="194.94" y2="226.00" stroke="#222" stroke-width="0.7"/>
<line x1="196.46" y1="224.10" x2="196.46" y2="226.00" stroke="#222" stroke-width="0.7"/>
<line x1="197.80" y1="224.10" x2="197.80" y2="226.00" stroke="#222" stroke-width="0.7"/>
<line x1="199.00" y1="224.10" x2="199.00" y2="227.10" stroke="#222" stroke-width="0.7"/>
<text x="93.40" y="234.40" font-size="5" text-anchor="middle" font-weight="bold" fill="#222">10</text>
<text x="96.80" y="231.70" font-size="3.8" text-anchor="middle" font-weight="bold" fill="#222">0</text>
<text x="119.60" y="234.40" font-size="5" text-anchor="middle" font-weight="bold" fill="#222">10</text>
<text x="123.00" y="231.70" font-size="3.8" text-anchor="middle" font-weight="bold" fill="#222">1</text>
<text x="145.80" y="234.40" font-size="5" text-anchor="middle" font-weight="bold" fill="#222">10</text>
<text x="149.20" y="231.70" font-size="3.8" text-anchor="middle" font-weight="bold" fill="#222">2</text>
<text x="172.00" y="234.40" font-size="5" text-anchor="middle" font-weight="bold" fill="#222">10</text>
<text x="175.40" y="231.70" font-size="3.8" text-anchor="middle" font-weight="bold" fill="#222">3</text>
<text x="198.20" y="234.40" font-size="5" text-anchor="middle" font-weight="bold" fill="#222">10</text>
<text x="201.60" y="231.70" font-size="3.8" text-anchor="middle" font-weight="bold" fill="#222">4</text>
<text transform="translate(91.10,223.90) rotate(-90)" font-size="5" text-anchor="middle" font-weight="normal" fill="#1e1e1e">0</text>
<text transform="translate(91.10,212.00) rotate(-90)" font-size="5" text-anchor="middle" font-weight="normal" fill="#1e1e1e">10</text>
<text transform="translate(91.10,200.10) rotate(-90)" font-size="5" text-anchor="middle" font-weight="normal" fill="#1e1e1e">20</text>
<text transform="translate(91.10,188.20) rotate(-90)" font-size="5" text-anchor="middle" font-weight="normal" fill="#1e1e1e">30</text>
<text transform="translate(91.10,176.30) rotate(-90)" font-size="5" text-anchor="middle" font-weight="normal" fill="#1e1e1e">40</text>
<text transform="translate(91.10,164.40) rotate(-90)" font-size="5" text-anchor="middle" font-weight="normal" fill="#1e1e1e">50</text>
<text transform="translate(91.10,152.50) rotate(-90)" font-size="5" text-anchor="middle" font-weight="normal" fill="#1e1e1e">60</text>
<text transform="translate(86.00,192.10) rotate(-90)" font-size="4.6" text-anchor="middle" font-weight="normal" fill="#2a2a2a"></text>
<text x="148.20" y="161.10" font-size="11.4" font-weight="bold" fill="#0d0d0d" textLength="36.80" lengthAdjust="spacingAndGlyphs">PI: 16.8</text>
<polygon points="222.12,223.84 222.12,223.60 222.92,223.56 223.73,223.52 224.54,223.47 225.35,223.43 226.15,223.39 226.96,223.35 227.77,223.31 228.58,223.27 229.38,223.23 230.19,223.19 231.00,223.15 231.81,223.11 232.62,223.07 233.42,223.03 234.23,222.99 235.04,222.95 235.85,222.91 236.65,222.87 237.52,222.63 238.38,222.38 239.25,222.10 240.12,221.97 240.98,221.53 241.85,221.65 242.71,221.17 243.52,219.73 244.33,217.51 245.13,216.33 245.94,212.68 246.75,211.97 247.56,207.85 248.53,201.52 249.50,195.73 250.34,192.40 251.19,188.46 252.04,189.76 252.89,190.88 254.34,181.19 255.19,173.60 256.04,166.65 257.49,159.38 258.46,166.65 259.43,160.60 260.40,171.50 261.85,186.04 263.31,176.35 264.76,169.08 265.97,167.87 267.18,178.77 268.64,186.04 270.09,179.98 271.55,175.13 272.76,172.71 273.97,183.62 275.42,198.15 276.39,201.32 277.36,205.42 278.33,208.42 279.30,210.85 280.27,212.69 281.08,215.56 281.88,217.34 282.69,219.96 283.66,221.02 284.63,221.64 285.60,222.38 286.45,222.57 287.30,222.75 288.14,222.93 288.99,223.11 289.84,223.29 290.69,223.47 291.54,223.66 292.38,223.84" fill="#262626" stroke="#262626" stroke-width="0.5" stroke-linejoin="round"/>
<line x1="220.90" y1="144.80" x2="325.80" y2="144.80" stroke="#ababab" stroke-width="0.8"/>
<line x1="325.80" y1="144.80" x2="325.80" y2="224.10" stroke="#8a8a8a" stroke-width="0.8"/>
<line x1="220.90" y1="144.80" x2="220.90" y2="224.10" stroke="#444" stroke-width="1" stroke-dasharray="1 2.3"/>
<line x1="220.40" y1="224.00" x2="326.30" y2="224.00" stroke="#1c1c1c" stroke-width="1.9"/>
<line x1="219.60" y1="224.10" x2="220.90" y2="224.10" stroke="#333" stroke-width="0.6"/>
<line x1="219.60" y1="220.80" x2="220.90" y2="220.80" stroke="#333" stroke-width="0.6"/>
<line x1="219.60" y1="217.49" x2="220.90" y2="217.49" stroke="#333" stroke-width="0.6"/>
<line x1="219.60" y1="214.19" x2="220.90" y2="214.19" stroke="#333" stroke-width="0.6"/>
<line x1="219.60" y1="210.88" x2="220.90" y2="210.88" stroke="#333" stroke-width="0.6"/>
<line x1="219.60" y1="207.58" x2="220.90" y2="207.58" stroke="#333" stroke-width="0.6"/>
<line x1="219.60" y1="204.28" x2="220.90" y2="204.28" stroke="#333" stroke-width="0.6"/>
<line x1="219.60" y1="200.97" x2="220.90" y2="200.97" stroke="#333" stroke-width="0.6"/>
<line x1="219.60" y1="197.67" x2="220.90" y2="197.67" stroke="#333" stroke-width="0.6"/>
<line x1="219.60" y1="194.36" x2="220.90" y2="194.36" stroke="#333" stroke-width="0.6"/>
<line x1="219.60" y1="191.06" x2="220.90" y2="191.06" stroke="#333" stroke-width="0.6"/>
<line x1="219.60" y1="187.75" x2="220.90" y2="187.75" stroke="#333" stroke-width="0.6"/>
<line x1="219.60" y1="184.45" x2="220.90" y2="184.45" stroke="#333" stroke-width="0.6"/>
<line x1="219.60" y1="181.15" x2="220.90" y2="181.15" stroke="#333" stroke-width="0.6"/>
<line x1="219.60" y1="177.84" x2="220.90" y2="177.84" stroke="#333" stroke-width="0.6"/>
<line x1="219.60" y1="174.54" x2="220.90" y2="174.54" stroke="#333" stroke-width="0.6"/>
<line x1="219.60" y1="171.23" x2="220.90" y2="171.23" stroke="#333" stroke-width="0.6"/>
<line x1="219.60" y1="167.93" x2="220.90" y2="167.93" stroke="#333" stroke-width="0.6"/>
<line x1="219.60" y1="164.62" x2="220.90" y2="164.62" stroke="#333" stroke-width="0.6"/>
<line x1="219.60" y1="161.32" x2="220.90" y2="161.32" stroke="#333" stroke-width="0.6"/>
<line x1="219.60" y1="158.02" x2="220.90" y2="158.02" stroke="#333" stroke-width="0.6"/>
<line x1="219.60" y1="154.71" x2="220.90" y2="154.71" stroke="#333" stroke-width="0.6"/>
<line x1="219.60" y1="151.41" x2="220.90" y2="151.41" stroke="#333" stroke-width="0.6"/>
<line x1="219.60" y1="148.10" x2="220.90" y2="148.10" stroke="#333" stroke-width="0.6"/>
<line x1="219.60" y1="144.80" x2="220.90" y2="144.80" stroke="#333" stroke-width="0.6"/>
<line x1="220.90" y1="224.10" x2="220.90" y2="227.10" stroke="#222" stroke-width="0.7"/>
<line x1="228.79" y1="224.10" x2="228.79" y2="226.00" stroke="#222" stroke-width="0.7"/>
<line x1="233.41" y1="224.10" x2="233.41" y2="226.00" stroke="#222" stroke-width="0.7"/>
<line x1="236.69" y1="224.10" x2="236.69" y2="226.00" stroke="#222" stroke-width="0.7"/>
<line x1="239.23" y1="224.10" x2="239.23" y2="226.00" stroke="#222" stroke-width="0.7"/>
<line x1="241.31" y1="224.10" x2="241.31" y2="226.00" stroke="#222" stroke-width="0.7"/>
<line x1="243.06" y1="224.10" x2="243.06" y2="226.00" stroke="#222" stroke-width="0.7"/>
<line x1="244.58" y1="224.10" x2="244.58" y2="226.00" stroke="#222" stroke-width="0.7"/>
<line x1="245.93" y1="224.10" x2="245.93" y2="226.00" stroke="#222" stroke-width="0.7"/>
<line x1="247.12" y1="224.10" x2="247.12" y2="227.10" stroke="#222" stroke-width="0.7"/>
<line x1="255.02" y1="224.10" x2="255.02" y2="226.00" stroke="#222" stroke-width="0.7"/>
<line x1="259.64" y1="224.10" x2="259.64" y2="226.00" stroke="#222" stroke-width="0.7"/>
<line x1="262.91" y1="224.10" x2="262.91" y2="226.00" stroke="#222" stroke-width="0.7"/>
<line x1="265.46" y1="224.10" x2="265.46" y2="226.00" stroke="#222" stroke-width="0.7"/>
<line x1="267.53" y1="224.10" x2="267.53" y2="226.00" stroke="#222" stroke-width="0.7"/>
<line x1="269.29" y1="224.10" x2="269.29" y2="226.00" stroke="#222" stroke-width="0.7"/>
<line x1="270.81" y1="224.10" x2="270.81" y2="226.00" stroke="#222" stroke-width="0.7"/>
<line x1="272.15" y1="224.10" x2="272.15" y2="226.00" stroke="#222" stroke-width="0.7"/>
<line x1="273.35" y1="224.10" x2="273.35" y2="227.10" stroke="#222" stroke-width="0.7"/>
<line x1="281.24" y1="224.10" x2="281.24" y2="226.00" stroke="#222" stroke-width="0.7"/>
<line x1="285.86" y1="224.10" x2="285.86" y2="226.00" stroke="#222" stroke-width="0.7"/>
<line x1="289.14" y1="224.10" x2="289.14" y2="226.00" stroke="#222" stroke-width="0.7"/>
<line x1="291.68" y1="224.10" x2="291.68" y2="226.00" stroke="#222" stroke-width="0.7"/>
<line x1="293.76" y1="224.10" x2="293.76" y2="226.00" stroke="#222" stroke-width="0.7"/>
<line x1="295.51" y1="224.10" x2="295.51" y2="226.00" stroke="#222" stroke-width="0.7"/>
<line x1="297.03" y1="224.10" x2="297.03" y2="226.00" stroke="#222" stroke-width="0.7"/>
<line x1="298.38" y1="224.10" x2="298.38" y2="226.00" stroke="#222" stroke-width="0.7"/>
<line x1="299.58" y1="224.10" x2="299.58" y2="227.10" stroke="#222" stroke-width="0.7"/>
<line x1="307.47" y1="224.10" x2="307.47" y2="226.00" stroke="#222" stroke-width="0.7"/>
<line x1="312.09" y1="224.10" x2="312.09" y2="226.00" stroke="#222" stroke-width="0.7"/>
<line x1="315.36" y1="224.10" x2="315.36" y2="226.00" stroke="#222" stroke-width="0.7"/>
<line x1="317.91" y1="224.10" x2="317.91" y2="226.00" stroke="#222" stroke-width="0.7"/>
<line x1="319.98" y1="224.10" x2="319.98" y2="226.00" stroke="#222" stroke-width="0.7"/>
<line x1="321.74" y1="224.10" x2="321.74" y2="226.00" stroke="#222" stroke-width="0.7"/>
<line x1="323.26" y1="224.10" x2="323.26" y2="226.00" stroke="#222" stroke-width="0.7"/>
<line x1="324.60" y1="224.10" x2="324.60" y2="226.00" stroke="#222" stroke-width="0.7"/>
<line x1="325.80" y1="224.10" x2="325.80" y2="227.10" stroke="#222" stroke-width="0.7"/>
<text x="220.10" y="234.40" font-size="5" text-anchor="middle" font-weight="bold" fill="#222">10</text>
<text x="223.50" y="231.70" font-size="3.8" text-anchor="middle" font-weight="bold" fill="#222">0</text>
<text x="246.32" y="234.40" font-size="5" text-anchor="middle" font-weight="bold" fill="#222">10</text>
<text x="249.72" y="231.70" font-size="3.8" text-anchor="middle" font-weight="bold" fill="#222">1</text>
<text x="272.55" y="234.40" font-size="5" text-anchor="middle" font-weight="bold" fill="#222">10</text>
<text x="275.95" y="231.70" font-size="3.8" text-anchor="middle" font-weight="bold" fill="#222">2</text>
<text x="298.78" y="234.40" font-size="5" text-anchor="middle" font-weight="bold" fill="#222">10</text>
<text x="302.18" y="231.70" font-size="3.8" text-anchor="middle" font-weight="bold" fill="#222">3</text>
<text x="325.00" y="234.40" font-size="5" text-anchor="middle" font-weight="bold" fill="#222">10</text>
<text x="328.40" y="231.70" font-size="3.8" text-anchor="middle" font-weight="bold" fill="#222">4</text>
<text transform="translate(217.80,223.90) rotate(-90)" font-size="5" text-anchor="middle" font-weight="normal" fill="#1e1e1e">0</text>
<text transform="translate(217.80,210.50) rotate(-90)" font-size="5" text-anchor="middle" font-weight="normal" fill="#1e1e1e">10</text>
<text transform="translate(217.80,197.10) rotate(-90)" font-size="5" text-anchor="middle" font-weight="normal" fill="#1e1e1e">20</text>
<text transform="translate(217.80,183.70) rotate(-90)" font-size="5" text-anchor="middle" font-weight="normal" fill="#1e1e1e">30</text>
<text transform="translate(217.80,170.30) rotate(-90)" font-size="5" text-anchor="middle" font-weight="normal" fill="#1e1e1e">40</text>
<text transform="translate(217.80,156.90) rotate(-90)" font-size="5" text-anchor="middle" font-weight="normal" fill="#1e1e1e">50</text>
<text transform="translate(212.70,185.25) rotate(-90)" font-size="4.6" text-anchor="middle" font-weight="normal" fill="#2a2a2a">Counts</text>
<text x="279.00" y="161.10" font-size="11.4" font-weight="bold" fill="#0d0d0d" textLength="37.60" lengthAdjust="spacingAndGlyphs">PI: 10.6</text>
<polygon points="349.69,225.95 349.69,225.71 350.50,225.66 351.31,225.61 352.12,225.57 352.92,225.52 353.73,225.47 354.54,225.42 355.35,225.37 356.15,225.32 356.96,225.28 357.77,225.23 358.58,225.18 359.38,225.13 360.19,225.08 361.00,225.03 361.81,224.98 362.62,224.80 363.42,224.61 364.23,224.44 365.04,224.19 365.85,224.09 366.65,223.97 367.46,223.56 368.27,223.66 369.08,223.29 369.99,222.32 370.89,221.07 371.80,219.34 372.71,218.44 373.52,215.94 374.33,211.63 375.13,207.54 375.98,201.51 376.83,193.00 378.28,176.04 379.50,161.50 380.47,153.02 381.68,161.50 382.65,168.77 384.10,161.50 385.55,151.81 387.01,145.02 387.98,145.75 389.19,154.23 390.40,163.92 391.61,168.77 392.82,161.50 394.28,153.02 395.73,145.75 396.94,151.81 398.15,166.35 399.12,172.03 400.09,176.04 401.06,178.97 402.03,180.88 402.88,185.87 403.73,190.58 404.57,197.71 405.42,205.12 406.23,208.67 407.04,210.75 407.85,214.81 408.82,217.65 409.78,219.36 410.75,220.87 411.63,221.45 412.50,222.10 413.37,222.19 414.24,222.59 415.12,223.29 415.98,223.52 416.85,223.47 417.71,223.89 418.58,224.09 419.44,224.21 420.31,224.24 421.17,224.50 421.98,224.98 422.79,225.47 423.60,225.95" fill="#262626" stroke="#262626" stroke-width="0.5" stroke-linejoin="round"/>
<line x1="349.00" y1="144.50" x2="458.70" y2="144.50" stroke="#8c8c8c" stroke-width="0.8"/>
<line x1="458.70" y1="144.50" x2="458.70" y2="226.20" stroke="#8a8a8a" stroke-width="0.8"/>
<line x1="349.00" y1="144.50" x2="349.00" y2="226.20" stroke="#444" stroke-width="1" stroke-dasharray="1 2.3"/>
<line x1="348.50" y1="226.10" x2="459.20" y2="226.10" stroke="#1c1c1c" stroke-width="1.9"/>
<line x1="347.70" y1="226.20" x2="349.00" y2="226.20" stroke="#333" stroke-width="0.6"/>
<line x1="347.70" y1="222.80" x2="349.00" y2="222.80" stroke="#333" stroke-width="0.6"/>
<line x1="347.70" y1="219.39" x2="349.00" y2="219.39" stroke="#333" stroke-width="0.6"/>
<line x1="347.70" y1="215.99" x2="349.00" y2="215.99" stroke="#333" stroke-width="0.6"/>
<line x1="347.70" y1="212.58" x2="349.00" y2="212.58" stroke="#333" stroke-width="0.6"/>
<line x1="347.70" y1="209.18" x2="349.00" y2="209.18" stroke="#333" stroke-width="0.6"/>
<line x1="347.70" y1="205.77" x2="349.00" y2="205.77" stroke="#333" stroke-width="0.6"/>
<line x1="347.70" y1="202.37" x2="349.00" y2="202.37" stroke="#333" stroke-width="0.6"/>
<line x1="347.70" y1="198.97" x2="349.00" y2="198.97" stroke="#333" stroke-width="0.6"/>
<line x1="347.70" y1="195.56" x2="349.00" y2="195.56" stroke="#333" stroke-width="0.6"/>
<line x1="347.70" y1="192.16" x2="349.00" y2="192.16" stroke="#333" stroke-width="0.6"/>
<line x1="347.70" y1="188.75" x2="349.00" y2="188.75" stroke="#333" stroke-width="0.6"/>
<line x1="347.70" y1="185.35" x2="349.00" y2="185.35" stroke="#333" stroke-width="0.6"/>
<line x1="347.70" y1="181.95" x2="349.00" y2="181.95" stroke="#333" stroke-width="0.6"/>
<line x1="347.70" y1="178.54" x2="349.00" y2="178.54" stroke="#333" stroke-width="0.6"/>
<line x1="347.70" y1="175.14" x2="349.00" y2="175.14" stroke="#333" stroke-width="0.6"/>
<line x1="347.70" y1="171.73" x2="349.00" y2="171.73" stroke="#333" stroke-width="0.6"/>
<line x1="347.70" y1="168.33" x2="349.00" y2="168.33" stroke="#333" stroke-width="0.6"/>
<line x1="347.70" y1="164.92" x2="349.00" y2="164.92" stroke="#333" stroke-width="0.6"/>
<line x1="347.70" y1="161.52" x2="349.00" y2="161.52" stroke="#333" stroke-width="0.6"/>
<line x1="347.70" y1="158.12" x2="349.00" y2="158.12" stroke="#333" stroke-width="0.6"/>
<line x1="347.70" y1="154.71" x2="349.00" y2="154.71" stroke="#333" stroke-width="0.6"/>
<line x1="347.70" y1="151.31" x2="349.00" y2="151.31" stroke="#333" stroke-width="0.6"/>
<line x1="347.70" y1="147.90" x2="349.00" y2="147.90" stroke="#333" stroke-width="0.6"/>
<line x1="347.70" y1="144.50" x2="349.00" y2="144.50" stroke="#333" stroke-width="0.6"/>
<line x1="349.00" y1="226.20" x2="349.00" y2="229.20" stroke="#222" stroke-width="0.7"/>
<line x1="357.26" y1="226.20" x2="357.26" y2="228.10" stroke="#222" stroke-width="0.7"/>
<line x1="362.09" y1="226.20" x2="362.09" y2="228.10" stroke="#222" stroke-width="0.7"/>
<line x1="365.51" y1="226.20" x2="365.51" y2="228.10" stroke="#222" stroke-width="0.7"/>
<line x1="368.17" y1="226.20" x2="368.17" y2="228.10" stroke="#222" stroke-width="0.7"/>
<line x1="370.34" y1="226.20" x2="370.34" y2="228.10" stroke="#222" stroke-width="0.7"/>
<line x1="372.18" y1="226.20" x2="372.18" y2="228.10" stroke="#222" stroke-width="0.7"/>
<line x1="373.77" y1="226.20" x2="373.77" y2="228.10" stroke="#222" stroke-width="0.7"/>
<line x1="375.17" y1="226.20" x2="375.17" y2="228.10" stroke="#222" stroke-width="0.7"/>
<line x1="376.43" y1="226.20" x2="376.43" y2="229.20" stroke="#222" stroke-width="0.7"/>
<line x1="384.68" y1="226.20" x2="384.68" y2="228.10" stroke="#222" stroke-width="0.7"/>
<line x1="389.51" y1="226.20" x2="389.51" y2="228.10" stroke="#222" stroke-width="0.7"/>
<line x1="392.94" y1="226.20" x2="392.94" y2="228.10" stroke="#222" stroke-width="0.7"/>
<line x1="395.59" y1="226.20" x2="395.59" y2="228.10" stroke="#222" stroke-width="0.7"/>
<line x1="397.77" y1="226.20" x2="397.77" y2="228.10" stroke="#222" stroke-width="0.7"/>
<line x1="399.60" y1="226.20" x2="399.60" y2="228.10" stroke="#222" stroke-width="0.7"/>
<line x1="401.19" y1="226.20" x2="401.19" y2="228.10" stroke="#222" stroke-width="0.7"/>
<line x1="402.60" y1="226.20" x2="402.60" y2="228.10" stroke="#222" stroke-width="0.7"/>
<line x1="403.85" y1="226.20" x2="403.85" y2="229.20" stroke="#222" stroke-width="0.7"/>
<line x1="412.11" y1="226.20" x2="412.11" y2="228.10" stroke="#222" stroke-width="0.7"/>
<line x1="416.94" y1="226.20" x2="416.94" y2="228.10" stroke="#222" stroke-width="0.7"/>
<line x1="420.36" y1="226.20" x2="420.36" y2="228.10" stroke="#222" stroke-width="0.7"/>
<line x1="423.02" y1="226.20" x2="423.02" y2="228.10" stroke="#222" stroke-width="0.7"/>
<line x1="425.19" y1="226.20" x2="425.19" y2="228.10" stroke="#222" stroke-width="0.7"/>
<line x1="427.03" y1="226.20" x2="427.03" y2="228.10" stroke="#222" stroke-width="0.7"/>
<line x1="428.62" y1="226.20" x2="428.62" y2="228.10" stroke="#222" stroke-width="0.7"/>
<line x1="430.02" y1="226.20" x2="430.02" y2="228.10" stroke="#222" stroke-width="0.7"/>
<line x1="431.27" y1="226.20" x2="431.27" y2="229.20" stroke="#222" stroke-width="0.7"/>
<line x1="439.53" y1="226.20" x2="439.53" y2="228.10" stroke="#222" stroke-width="0.7"/>
<line x1="444.36" y1="226.20" x2="444.36" y2="228.10" stroke="#222" stroke-width="0.7"/>
<line x1="447.79" y1="226.20" x2="447.79" y2="228.10" stroke="#222" stroke-width="0.7"/>
<line x1="450.44" y1="226.20" x2="450.44" y2="228.10" stroke="#222" stroke-width="0.7"/>
<line x1="452.62" y1="226.20" x2="452.62" y2="228.10" stroke="#222" stroke-width="0.7"/>
<line x1="454.45" y1="226.20" x2="454.45" y2="228.10" stroke="#222" stroke-width="0.7"/>
<line x1="456.04" y1="226.20" x2="456.04" y2="228.10" stroke="#222" stroke-width="0.7"/>
<line x1="457.45" y1="226.20" x2="457.45" y2="228.10" stroke="#222" stroke-width="0.7"/>
<line x1="458.70" y1="226.20" x2="458.70" y2="229.20" stroke="#222" stroke-width="0.7"/>
<text x="348.20" y="236.50" font-size="5" text-anchor="middle" font-weight="bold" fill="#222">10</text>
<text x="351.60" y="233.80" font-size="3.8" text-anchor="middle" font-weight="bold" fill="#222">0</text>
<text x="375.62" y="236.50" font-size="5" text-anchor="middle" font-weight="bold" fill="#222">10</text>
<text x="379.03" y="233.80" font-size="3.8" text-anchor="middle" font-weight="bold" fill="#222">1</text>
<text x="403.05" y="236.50" font-size="5" text-anchor="middle" font-weight="bold" fill="#222">10</text>
<text x="406.45" y="233.80" font-size="3.8" text-anchor="middle" font-weight="bold" fill="#222">2</text>
<text x="430.47" y="236.50" font-size="5" text-anchor="middle" font-weight="bold" fill="#222">10</text>
<text x="433.88" y="233.80" font-size="3.8" text-anchor="middle" font-weight="bold" fill="#222">3</text>
<text x="457.90" y="236.50" font-size="5" text-anchor="middle" font-weight="bold" fill="#222">10</text>
<text x="461.30" y="233.80" font-size="3.8" text-anchor="middle" font-weight="bold" fill="#222">4</text>
<text transform="translate(345.90,225.50) rotate(-90)" font-size="5" text-anchor="middle" font-weight="normal" fill="#1e1e1e">0</text>
<text transform="translate(345.90,209.80) rotate(-90)" font-size="5" text-anchor="middle" font-weight="normal" fill="#1e1e1e">10</text>
<text transform="translate(345.90,194.10) rotate(-90)" font-size="5" text-anchor="middle" font-weight="normal" fill="#1e1e1e">20</text>
<text transform="translate(345.90,178.40) rotate(-90)" font-size="5" text-anchor="middle" font-weight="normal" fill="#1e1e1e">30</text>
<text transform="translate(345.90,162.70) rotate(-90)" font-size="5" text-anchor="middle" font-weight="normal" fill="#1e1e1e">40</text>
<text transform="translate(345.90,147.00) rotate(-90)" font-size="5" text-anchor="middle" font-weight="normal" fill="#1e1e1e">50</text>
<text transform="translate(340.80,187.55) rotate(-90)" font-size="4.6" text-anchor="middle" font-weight="normal" fill="#2a2a2a">Counts</text>
<text x="410.30" y="159.60" font-size="11.4" font-weight="bold" fill="#0d0d0d" textLength="36.30" lengthAdjust="spacingAndGlyphs">PI: 12.6</text>
<text x="415.6" y="140.6" font-size="4" text-anchor="middle" fill="#777">3</text>
<text x="-0.10" y="296.70" font-size="17" text-anchor="start" font-weight="bold" fill="#0d0d0d" >B</text>
<line x1="52.50" y1="289.00" x2="52.50" y2="396.90" stroke="#383838" stroke-width="1.0"/>
<line x1="51.50" y1="289.30" x2="52.50" y2="289.30" stroke="#666" stroke-width="0.6"/>
<text x="50.40" y="400.50" font-size="8.2" text-anchor="end" font-weight="bold" fill="#0d0d0d" >0</text>
<text x="50.40" y="378.98" font-size="8.2" text-anchor="end" font-weight="bold" fill="#0d0d0d" >0.2</text>
<text x="50.40" y="357.46" font-size="8.2" text-anchor="end" font-weight="bold" fill="#0d0d0d" >0.4</text>
<text x="50.40" y="335.94" font-size="8.2" text-anchor="end" font-weight="bold" fill="#0d0d0d" >0.6</text>
<text x="50.40" y="314.42" font-size="8.2" text-anchor="end" font-weight="bold" fill="#0d0d0d" >0.8</text>
<text x="50.40" y="292.90" font-size="8.2" text-anchor="end" font-weight="bold" fill="#0d0d0d" >1.0</text>
<line x1="52.00" y1="396.90" x2="243.00" y2="396.90" stroke="#383838" stroke-width="1.0"/>
<text transform="translate(33.20,395.60) rotate(-90)" x="0" y="0" font-size="10.8" font-weight="bold" fill="#0d0d0d" textLength="107.40" lengthAdjust="spacingAndGlyphs">Relative Proliferation</text>
<rect x="67.25" y="366.00" width="18.50" height="30.90" fill="#fff" stroke="#1a1a1a" stroke-width="1"/>
<rect x="74.20" y="364.50" width="4.6" height="2.2" rx="1" fill="#111"/>
<rect x="114.80" y="336.80" width="18.60" height="60.10" fill="url(#hatch)" stroke="#1a1a1a" stroke-width="1"/>
<line x1="123.80" y1="327.20" x2="123.80" y2="345.40" stroke="#0d0d0d" stroke-width="1.1"/>
<line x1="121.30" y1="327.20" x2="126.30" y2="327.20" stroke="#0d0d0d" stroke-width="1.1"/>
<line x1="121.30" y1="345.40" x2="126.30" y2="345.40" stroke="#0d0d0d" stroke-width="1.1"/>
<rect x="162.25" y="340.00" width="18.50" height="56.90" fill="url(#hatch)" stroke="#1a1a1a" stroke-width="1"/>
<line x1="171.50" y1="332.50" x2="171.50" y2="346.30" stroke="#0d0d0d" stroke-width="1.1"/>
<line x1="169.00" y1="332.50" x2="174.00" y2="332.50" stroke="#0d0d0d" stroke-width="1.1"/>
<line x1="169.00" y1="346.30" x2="174.00" y2="346.30" stroke="#0d0d0d" stroke-width="1.1"/>
<rect x="209.75" y="348.50" width="18.50" height="48.40" fill="url(#hatch)" stroke="#1a1a1a" stroke-width="1"/>
<line x1="219.00" y1="343.30" x2="219.00" y2="352.50" stroke="#0d0d0d" stroke-width="1.1"/>
<line x1="216.50" y1="343.30" x2="221.50" y2="343.30" stroke="#0d0d0d" stroke-width="1.1"/>
<line x1="216.50" y1="352.50" x2="221.50" y2="352.50" stroke="#0d0d0d" stroke-width="1.1"/>
<path d="M69.85,350.40 L70.95,350.40 L70.70,358.40 L70.10,358.40 Z" fill="#222"/>
<line x1="68.30" y1="353.20" x2="72.50" y2="353.20" stroke="#222" stroke-width="1.0"/>
<path d="M76.95,350.40 L78.05,350.40 L77.80,358.40 L77.20,358.40 Z" fill="#222"/>
<line x1="75.40" y1="353.20" x2="79.60" y2="353.20" stroke="#222" stroke-width="1.0"/>
<path d="M84.05,350.40 L85.15,350.40 L84.90,358.40 L84.30,358.40 Z" fill="#222"/>
<line x1="82.50" y1="353.20" x2="86.70" y2="353.20" stroke="#222" stroke-width="1.0"/>
<circle cx="119.30" cy="321.00" r="0.9" fill="#0d0d0d"/>
<circle cx="125.00" cy="321.00" r="0.9" fill="#0d0d0d"/>
<circle cx="130.80" cy="321.00" r="0.9" fill="#0d0d0d"/>
<circle cx="166.70" cy="326.00" r="0.9" fill="#0d0d0d"/>
<circle cx="172.20" cy="326.00" r="0.9" fill="#0d0d0d"/>
<circle cx="177.80" cy="326.00" r="0.9" fill="#0d0d0d"/>
<circle cx="214.00" cy="334.00" r="0.9" fill="#0d0d0d"/>
<circle cx="219.60" cy="334.00" r="0.9" fill="#0d0d0d"/>
<circle cx="225.20" cy="334.00" r="0.9" fill="#0d0d0d"/>
<text x="76.20" y="410.50" font-size="8.4" text-anchor="middle" font-weight="bold" fill="#0d0d0d" >5.0</text>
<text x="124.25" y="410.80" font-size="8.4" text-anchor="middle" font-weight="bold" fill="#0d0d0d" >.05</text>
<text x="175.00" y="410.80" font-size="8.4" text-anchor="middle" font-weight="bold" fill="#0d0d0d" >.1</text>
<text x="220.00" y="410.80" font-size="8.4" text-anchor="middle" font-weight="bold" fill="#0d0d0d" >.5</text>
<polyline points="111.30,405.50 111.30,414.80 234.60,414.80 234.60,405.50" fill="none" stroke="#0d0d0d" stroke-width="1"/>
<text x="58.00" y="427.20" font-size="8.4" font-weight="bold" fill="#0d0d0d" textLength="45.75" lengthAdjust="spacingAndGlyphs">µM Imatinib</text>
<rect x="58.00" y="427.90" width="45.75" height="1" fill="#0d0d0d"/>
<text x="153.00" y="427.20" font-size="8.4" font-weight="bold" fill="#0d0d0d" textLength="45.75" lengthAdjust="spacingAndGlyphs">µM SKI-606</text>
<rect x="153.00" y="427.90" width="45.75" height="1" fill="#0d0d0d"/>
<text x="271.50" y="298.00" font-size="17" text-anchor="start" font-weight="bold" fill="#0d0d0d" >C</text>
<line x1="322.50" y1="289.50" x2="322.50" y2="397.50" stroke="#383838" stroke-width="1.0"/>
<line x1="321.50" y1="289.80" x2="322.50" y2="289.80" stroke="#666" stroke-width="0.6"/>
<text x="320.80" y="402.40" font-size="8.2" text-anchor="end" font-weight="bold" fill="#0d0d0d" >0</text>
<text x="320.80" y="384.45" font-size="8.2" text-anchor="end" font-weight="bold" fill="#0d0d0d" >0.2</text>
<text x="320.80" y="366.50" font-size="8.2" text-anchor="end" font-weight="bold" fill="#0d0d0d" >0.4</text>
<text x="320.80" y="348.55" font-size="8.2" text-anchor="end" font-weight="bold" fill="#0d0d0d" >0.6</text>
<text x="320.80" y="330.60" font-size="8.2" text-anchor="end" font-weight="bold" fill="#0d0d0d" >0.8</text>
<text x="320.80" y="312.65" font-size="8.2" text-anchor="end" font-weight="bold" fill="#0d0d0d" >1.0</text>
<text x="320.80" y="294.70" font-size="8.2" text-anchor="end" font-weight="bold" fill="#0d0d0d" >1.2</text>
<line x1="322.00" y1="397.50" x2="514.80" y2="397.50" stroke="#383838" stroke-width="1.0"/>
<text transform="translate(305.50,394.00) rotate(-90)" x="0" y="0" font-size="10.8" font-weight="bold" fill="#0d0d0d" textLength="108.00" lengthAdjust="spacingAndGlyphs">Relative Proliferation</text>
<rect x="337.25" y="321.70" width="19.75" height="75.80" fill="#fff" stroke="#1a1a1a" stroke-width="1"/>
<line x1="347.10" y1="317.50" x2="347.10" y2="325.00" stroke="#0d0d0d" stroke-width="1.1"/>
<line x1="344.10" y1="317.50" x2="350.10" y2="317.50" stroke="#0d0d0d" stroke-width="1.1"/>
<line x1="344.10" y1="325.00" x2="350.10" y2="325.00" stroke="#0d0d0d" stroke-width="1.1"/>
<rect x="386.00" y="310.00" width="18.00" height="87.50" fill="url(#hatch)" stroke="#1a1a1a" stroke-width="1"/>
<rect x="392.60" y="308.40" width="4.8" height="2.4" rx="1" fill="#111"/>
<rect x="433.75" y="308.50" width="19.50" height="89.00" fill="url(#hatch)" stroke="#1a1a1a" stroke-width="1"/>
<rect x="441.10" y="307.00" width="4.8" height="2.4" rx="1" fill="#111"/>
<rect x="481.90" y="310.00" width="19.00" height="87.50" fill="url(#hatch)" stroke="#1a1a1a" stroke-width="1"/>
<rect x="489.00" y="308.40" width="4.8" height="2.4" rx="1" fill="#111"/>
<path d="M346.20,299.80 L347.30,299.80 L347.05,307.80 L346.45,307.80 Z" fill="#222"/>
<line x1="344.65" y1="302.60" x2="348.85" y2="302.60" stroke="#222" stroke-width="1.0"/>
<text x="346.25" y="411.40" font-size="8.4" text-anchor="middle" font-weight="bold" fill="#0d0d0d" >5.0</text>
<text x="394.25" y="410.60" font-size="8.4" text-anchor="middle" font-weight="bold" fill="#0d0d0d" >.05</text>
<text x="445.75" y="410.60" font-size="8.4" text-anchor="middle" font-weight="bold" fill="#0d0d0d" >.1</text>
<text x="491.25" y="410.60" font-size="8.4" text-anchor="middle" font-weight="bold" fill="#0d0d0d" >.5</text>
<polyline points="383.30,405.00 383.30,412.90 509.40,412.90 509.40,404.80" fill="none" stroke="#0d0d0d" stroke-width="1"/>
<text x="326.25" y="425.80" font-size="8.4" font-weight="bold" fill="#0d0d0d" textLength="46.75" lengthAdjust="spacingAndGlyphs">µM Imatinib</text>
<rect x="326.25" y="426.80" width="46.75" height="1" fill="#0d0d0d"/>
<text x="430.00" y="425.80" font-size="8.4" font-weight="bold" fill="#0d0d0d" textLength="46.25" lengthAdjust="spacingAndGlyphs">µM SKI-606</text>
<rect x="430.00" y="426.80" width="46.25" height="1" fill="#0d0d0d"/>
<text x="0.20" y="457.00" font-size="17" text-anchor="start" font-weight="bold" fill="#0d0d0d" >D</text>
<line x1="54.50" y1="444.50" x2="54.50" y2="552.50" stroke="#383838" stroke-width="1.0"/>
<line x1="53.50" y1="444.80" x2="54.50" y2="444.80" stroke="#666" stroke-width="0.6"/>
<text x="52.30" y="556.60" font-size="8.2" text-anchor="end" font-weight="bold" fill="#0d0d0d" >0</text>
<text x="52.30" y="535.06" font-size="8.2" text-anchor="end" font-weight="bold" fill="#0d0d0d" >0.2</text>
<text x="52.30" y="513.52" font-size="8.2" text-anchor="end" font-weight="bold" fill="#0d0d0d" >0.4</text>
<text x="52.30" y="491.98" font-size="8.2" text-anchor="end" font-weight="bold" fill="#0d0d0d" >0.6</text>
<text x="52.30" y="470.44" font-size="8.2" text-anchor="end" font-weight="bold" fill="#0d0d0d" >0.8</text>
<text x="52.30" y="448.90" font-size="8.2" text-anchor="end" font-weight="bold" fill="#0d0d0d" >1.0</text>
<line x1="54.00" y1="552.50" x2="248.80" y2="552.50" stroke="#383838" stroke-width="1.0"/>
<text transform="translate(33.30,549.80) rotate(-90)" x="0" y="0" font-size="10.8" font-weight="bold" fill="#0d0d0d" textLength="107.90" lengthAdjust="spacingAndGlyphs">Relative Proliferation</text>
<rect x="69.25" y="500.00" width="19.00" height="52.50" fill="#fff" stroke="#1a1a1a" stroke-width="1"/>
<line x1="78.75" y1="494.30" x2="78.75" y2="505.70" stroke="#0d0d0d" stroke-width="1.1"/>
<line x1="76.25" y1="494.30" x2="81.25" y2="494.30" stroke="#0d0d0d" stroke-width="1.1"/>
<line x1="76.25" y1="505.70" x2="81.25" y2="505.70" stroke="#0d0d0d" stroke-width="1.1"/>
<rect x="118.00" y="473.00" width="18.50" height="79.50" fill="url(#hatch)" stroke="#1a1a1a" stroke-width="1"/>
<line x1="127.20" y1="467.00" x2="127.20" y2="478.00" stroke="#0d0d0d" stroke-width="1.1"/>
<line x1="124.70" y1="467.00" x2="129.70" y2="467.00" stroke="#0d0d0d" stroke-width="1.1"/>
<line x1="124.70" y1="478.00" x2="129.70" y2="478.00" stroke="#0d0d0d" stroke-width="1.1"/>
<rect x="166.75" y="477.25" width="18.50" height="75.25" fill="url(#hatch)" stroke="#1a1a1a" stroke-width="1"/>
<line x1="176.00" y1="471.30" x2="176.00" y2="482.50" stroke="#0d0d0d" stroke-width="1.1"/>
<line x1="173.50" y1="471.30" x2="178.50" y2="471.30" stroke="#0d0d0d" stroke-width="1.1"/>
<line x1="173.50" y1="482.50" x2="178.50" y2="482.50" stroke="#0d0d0d" stroke-width="1.1"/>
<rect x="215.00" y="482.50" width="18.75" height="70.00" fill="url(#hatch)" stroke="#1a1a1a" stroke-width="1"/>
<line x1="224.40" y1="477.50" x2="224.40" y2="486.30" stroke="#0d0d0d" stroke-width="1.1"/>
<line x1="221.90" y1="477.50" x2="226.90" y2="477.50" stroke="#0d0d0d" stroke-width="1.1"/>
<line x1="221.90" y1="486.30" x2="226.90" y2="486.30" stroke="#0d0d0d" stroke-width="1.1"/>
<path d="M74.95,481.00 L76.05,481.00 L75.80,489.00 L75.20,489.00 Z" fill="#222"/>
<line x1="73.40" y1="483.80" x2="77.60" y2="483.80" stroke="#222" stroke-width="1.0"/>
<path d="M81.90,481.00 L83.00,481.00 L82.75,489.00 L82.15,489.00 Z" fill="#222"/>
<line x1="80.35" y1="483.80" x2="84.55" y2="483.80" stroke="#222" stroke-width="1.0"/>
<path d="M88.85,481.00 L89.95,481.00 L89.70,489.00 L89.10,489.00 Z" fill="#222"/>
<line x1="87.30" y1="483.80" x2="91.50" y2="483.80" stroke="#222" stroke-width="1.0"/>
<circle cx="121.30" cy="459.30" r="0.9" fill="#0d0d0d"/>
<circle cx="126.90" cy="459.30" r="0.9" fill="#0d0d0d"/>
<circle cx="132.50" cy="459.30" r="0.9" fill="#0d0d0d"/>
<circle cx="170.00" cy="463.00" r="0.9" fill="#0d0d0d"/>
<circle cx="175.60" cy="463.00" r="0.9" fill="#0d0d0d"/>
<circle cx="181.20" cy="463.00" r="0.9" fill="#0d0d0d"/>
<circle cx="218.80" cy="467.50" r="0.9" fill="#0d0d0d"/>
<circle cx="224.40" cy="467.50" r="0.9" fill="#0d0d0d"/>
<circle cx="230.00" cy="467.50" r="0.9" fill="#0d0d0d"/>
<text x="78.75" y="565.60" font-size="8.4" text-anchor="middle" font-weight="bold" fill="#0d0d0d" >5.0</text>
<text x="126.75" y="566.20" font-size="8.4" text-anchor="middle" font-weight="bold" fill="#0d0d0d" >.05</text>
<text x="176.25" y="566.20" font-size="8.4" text-anchor="middle" font-weight="bold" fill="#0d0d0d" >.1</text>
<text x="223.75" y="566.20" font-size="8.4" text-anchor="middle" font-weight="bold" fill="#0d0d0d" >.5</text>
<polyline points="115.00,561.20 115.00,569.60 238.60,569.60 238.60,561.20" fill="none" stroke="#0d0d0d" stroke-width="1"/>
<text x="61.75" y="582.20" font-size="8.4" font-weight="bold" fill="#0d0d0d" textLength="47.00" lengthAdjust="spacingAndGlyphs">µM Imatinib</text>
<rect x="61.75" y="582.80" width="47.00" height="1" fill="#0d0d0d"/>
<text x="156.25" y="582.20" font-size="8.4" font-weight="bold" fill="#0d0d0d" textLength="45.00" lengthAdjust="spacingAndGlyphs">µM SKI-606</text>
<rect x="156.25" y="582.80" width="45.00" height="1" fill="#0d0d0d"/>
<text x="272.70" y="457.00" font-size="17" text-anchor="start" font-weight="bold" fill="#0d0d0d" >E</text>
<line x1="324.50" y1="443.40" x2="324.50" y2="552.60" stroke="#383838" stroke-width="1.0"/>
<line x1="323.50" y1="443.70" x2="324.50" y2="443.70" stroke="#666" stroke-width="0.6"/>
<text x="321.90" y="557.40" font-size="8.2" text-anchor="end" font-weight="bold" fill="#0d0d0d" >0</text>
<text x="321.90" y="539.25" font-size="8.2" text-anchor="end" font-weight="bold" fill="#0d0d0d" >0.2</text>
<text x="321.90" y="521.10" font-size="8.2" text-anchor="end" font-weight="bold" fill="#0d0d0d" >0.4</text>
<text x="321.90" y="502.95" font-size="8.2" text-anchor="end" font-weight="bold" fill="#0d0d0d" >0.6</text>
<text x="321.90" y="484.80" font-size="8.2" text-anchor="end" font-weight="bold" fill="#0d0d0d" >0.8</text>
<text x="321.90" y="466.65" font-size="8.2" text-anchor="end" font-weight="bold" fill="#0d0d0d" >1.0</text>
<text x="321.90" y="448.50" font-size="8.2" text-anchor="end" font-weight="bold" fill="#0d0d0d" >1.2</text>
<line x1="324.00" y1="552.60" x2="513.70" y2="552.60" stroke="#383838" stroke-width="1.0"/>
<text transform="translate(305.00,553.60) rotate(-90)" x="0" y="0" font-size="10.8" font-weight="bold" fill="#0d0d0d" textLength="107.60" lengthAdjust="spacingAndGlyphs">Relative Proliferation</text>
<rect x="338.50" y="490.00" width="19.00" height="62.60" fill="#fff" stroke="#1a1a1a" stroke-width="1"/>
<line x1="348.00" y1="487.50" x2="348.00" y2="491.80" stroke="#0d0d0d" stroke-width="1.1"/>
<line x1="345.50" y1="487.50" x2="350.50" y2="487.50" stroke="#0d0d0d" stroke-width="1.1"/>
<line x1="345.50" y1="491.80" x2="350.50" y2="491.80" stroke="#0d0d0d" stroke-width="1.1"/>
<rect x="386.00" y="462.50" width="18.50" height="90.10" fill="url(#hatch)" stroke="#1a1a1a" stroke-width="1"/>
<rect x="392.90" y="461.05" width="4.6" height="1.9" rx="1" fill="#111"/>
<rect x="433.00" y="463.50" width="19.50" height="89.10" fill="url(#hatch)" stroke="#1a1a1a" stroke-width="1"/>
<rect x="440.40" y="462.05" width="4.6" height="1.9" rx="1" fill="#111"/>
<rect x="481.00" y="462.50" width="18.70" height="90.10" fill="url(#hatch)" stroke="#1a1a1a" stroke-width="1"/>
<rect x="488.00" y="461.05" width="4.6" height="1.9" rx="1" fill="#111"/>
<path d="M342.60,474.00 L343.70,474.00 L343.45,482.00 L342.85,482.00 Z" fill="#222"/>
<line x1="341.05" y1="476.80" x2="345.25" y2="476.80" stroke="#222" stroke-width="1.0"/>
<path d="M349.82,474.00 L350.93,474.00 L350.68,482.00 L350.07,482.00 Z" fill="#222"/>
<line x1="348.27" y1="476.80" x2="352.48" y2="476.80" stroke="#222" stroke-width="1.0"/>
<path d="M357.05,474.00 L358.15,474.00 L357.90,482.00 L357.30,482.00 Z" fill="#222"/>
<line x1="355.50" y1="476.80" x2="359.70" y2="476.80" stroke="#222" stroke-width="1.0"/>
<text x="349.50" y="564.40" font-size="8.4" text-anchor="middle" font-weight="bold" fill="#0d0d0d" >5.0</text>
<text x="396.75" y="564.60" font-size="8.4" text-anchor="middle" font-weight="bold" fill="#0d0d0d" >.05</text>
<text x="445.00" y="564.60" font-size="8.4" text-anchor="middle" font-weight="bold" fill="#0d0d0d" >.1</text>
<text x="493.00" y="564.60" font-size="8.4" text-anchor="middle" font-weight="bold" fill="#0d0d0d" >.5</text>
<polyline points="383.30,558.60 383.30,566.90 507.00,566.90 507.00,558.80" fill="none" stroke="#0d0d0d" stroke-width="1"/>
<text x="326.75" y="581.00" font-size="8.4" font-weight="bold" fill="#0d0d0d" textLength="47.00" lengthAdjust="spacingAndGlyphs">µM Imatinib</text>
<rect x="326.75" y="581.40" width="47.00" height="1" fill="#0d0d0d"/>
<text x="426.75" y="581.00" font-size="8.4" font-weight="bold" fill="#0d0d0d" textLength="45.25" lengthAdjust="spacingAndGlyphs">µM SKI-606</text>
<rect x="426.75" y="581.40" width="45.25" height="1" fill="#0d0d0d"/>
<text x="1.20" y="610.60" font-size="17" text-anchor="start" font-weight="bold" fill="#0d0d0d" >F</text>
<line x1="57.50" y1="612.00" x2="57.50" y2="725.60" stroke="#383838" stroke-width="1.0"/>
<line x1="56.50" y1="612.30" x2="57.50" y2="612.30" stroke="#666" stroke-width="0.6"/>
<text x="54.20" y="729.50" font-size="8.2" text-anchor="end" font-weight="bold" fill="#0d0d0d" >0</text>
<text x="54.20" y="706.84" font-size="8.2" text-anchor="end" font-weight="bold" fill="#0d0d0d" >0.2</text>
<text x="54.20" y="684.18" font-size="8.2" text-anchor="end" font-weight="bold" fill="#0d0d0d" >0.4</text>
<text x="54.20" y="661.52" font-size="8.2" text-anchor="end" font-weight="bold" fill="#0d0d0d" >0.6</text>
<text x="54.20" y="638.86" font-size="8.2" text-anchor="end" font-weight="bold" fill="#0d0d0d" >0.8</text>
<text x="54.20" y="616.20" font-size="8.2" text-anchor="end" font-weight="bold" fill="#0d0d0d" >1.0</text>
<line x1="57.00" y1="725.60" x2="256.20" y2="725.60" stroke="#383838" stroke-width="1.0"/>
<text transform="translate(36.80,721.80) rotate(-90)" x="0" y="0" font-size="10.8" font-weight="bold" fill="#0d0d0d" textLength="108.30" lengthAdjust="spacingAndGlyphs">Relative Proliferation</text>
<rect x="74.75" y="668.00" width="26.50" height="57.60" fill="#fff" stroke="#1a1a1a" stroke-width="1"/>
<line x1="88.50" y1="650.80" x2="88.50" y2="684.50" stroke="#0d0d0d" stroke-width="1.2"/>
<line x1="84.00" y1="650.80" x2="93.00" y2="650.80" stroke="#0d0d0d" stroke-width="1.2"/>
<line x1="84.00" y1="684.50" x2="93.00" y2="684.50" stroke="#0d0d0d" stroke-width="1.2"/>
<rect x="142.25" y="652.50" width="26.75" height="73.10" fill="url(#hatch)" stroke="#1a1a1a" stroke-width="1"/>
<line x1="155.60" y1="642.00" x2="155.60" y2="662.50" stroke="#0d0d0d" stroke-width="1.3"/>
<line x1="152.60" y1="642.00" x2="158.60" y2="642.00" stroke="#0d0d0d" stroke-width="1.3"/>
<line x1="152.60" y1="662.50" x2="158.60" y2="662.50" stroke="#0d0d0d" stroke-width="1.3"/>
<rect x="208.30" y="660.70" width="26.00" height="64.90" fill="url(#grid)" stroke="#1a1a1a" stroke-width="1"/>
<line x1="222.35" y1="644.40" x2="222.35" y2="678.20" stroke="#0d0d0d" stroke-width="1.4"/>
<line x1="220.45" y1="644.40" x2="224.25" y2="644.40" stroke="#0d0d0d" stroke-width="1.4"/>
<line x1="220.45" y1="678.20" x2="224.25" y2="678.20" stroke="#0d0d0d" stroke-width="1.4"/>
<circle cx="86.30" cy="640.00" r="0.9" fill="#0d0d0d"/>
<circle cx="92.00" cy="640.00" r="0.9" fill="#0d0d0d"/>
<circle cx="153.10" cy="632.70" r="0.9" fill="#0d0d0d"/>
<circle cx="158.30" cy="632.70" r="0.9" fill="#0d0d0d"/>
<circle cx="222.10" cy="632.70" r="0.9" fill="#0d0d0d"/>
<polyline points="88.25,616.5 88.25,604.3 219.5,604.3 219.5,617" fill="none" stroke="#0d0d0d" stroke-width="1"/>
<polyline points="157.4,627.5 157.4,621.7 219.7,621.7 219.7,627.5" fill="none" stroke="#0d0d0d" stroke-width="1"/>
<text x="154.60" y="601.30" font-size="8.3" text-anchor="middle" font-weight="bold" fill="#0d0d0d" >ns</text>
<text x="190.60" y="615.70" font-size="8.3" text-anchor="middle" font-weight="bold" fill="#0d0d0d" >ns</text>
<text x="89.25" y="739.90" font-size="8.4" text-anchor="middle" font-weight="bold" fill="#0d0d0d" >5.0</text>
<text x="158.00" y="739.90" font-size="8.4" text-anchor="middle" font-weight="bold" fill="#0d0d0d" >0.5</text>
<text x="65.50" y="754.60" font-size="8.4" font-weight="bold" fill="#0d0d0d" textLength="47.50" lengthAdjust="spacingAndGlyphs">µM Imatinib</text>
<rect x="65.50" y="755.30" width="47.50" height="1" fill="#0d0d0d"/>
<text x="133.75" y="754.60" font-size="8.4" font-weight="bold" fill="#0d0d0d" textLength="45.00" lengthAdjust="spacingAndGlyphs">µM SKI-606</text>
<rect x="133.75" y="755.70" width="45.00" height="1" fill="#0d0d0d"/>
<text x="191.60" y="740.40" font-size="8.4" font-weight="bold" fill="#0d0d0d" textLength="61.40" lengthAdjust="spacingAndGlyphs">5.0 µM Imatinib</text>
<rect x="191.60" y="741.00" width="61.40" height="1" fill="#0d0d0d"/>
<text x="189.50" y="755.00" font-size="8.4" font-weight="bold" fill="#0d0d0d" textLength="66.00" lengthAdjust="spacingAndGlyphs">+ 0.5 µM SKI-606</text>
<rect x="189.50" y="755.70" width="66.00" height="1" fill="#0d0d0d"/>
<text x="272.50" y="611.90" font-size="17" text-anchor="start" font-weight="bold" fill="#0d0d0d" >G</text>
<line x1="324.40" y1="607.60" x2="324.40" y2="726.20" stroke="#2a2a2a" stroke-width="1.2"/>
<line x1="321.80" y1="726.20" x2="324.40" y2="726.20" stroke="#2a2a2a" stroke-width="1.0"/>
<line x1="321.80" y1="702.54" x2="324.40" y2="702.54" stroke="#2a2a2a" stroke-width="1.0"/>
<line x1="321.80" y1="678.88" x2="324.40" y2="678.88" stroke="#2a2a2a" stroke-width="1.0"/>
<line x1="321.80" y1="655.22" x2="324.40" y2="655.22" stroke="#2a2a2a" stroke-width="1.0"/>
<line x1="321.80" y1="631.56" x2="324.40" y2="631.56" stroke="#2a2a2a" stroke-width="1.0"/>
<line x1="321.80" y1="607.90" x2="324.40" y2="607.90" stroke="#2a2a2a" stroke-width="1.0"/>
<text x="321.30" y="730.60" font-size="8.2" text-anchor="end" font-weight="bold" fill="#0d0d0d" >0</text>
<text x="321.30" y="706.94" font-size="8.2" text-anchor="end" font-weight="bold" fill="#0d0d0d" >2</text>
<text x="321.30" y="683.28" font-size="8.2" text-anchor="end" font-weight="bold" fill="#0d0d0d" >4</text>
<text x="321.30" y="659.62" font-size="8.2" text-anchor="end" font-weight="bold" fill="#0d0d0d" >6</text>
<text x="321.30" y="635.96" font-size="8.2" text-anchor="end" font-weight="bold" fill="#0d0d0d" >8</text>
<text x="321.30" y="612.30" font-size="8.2" text-anchor="end" font-weight="bold" fill="#0d0d0d" >10</text>
<line x1="323.75" y1="726.20" x2="520.00" y2="726.20" stroke="#383838" stroke-width="1.0"/>
<text transform="translate(308.60,727.00) rotate(-90)" x="0" y="0" font-size="10.8" font-weight="bold" fill="#0d0d0d" textLength="123.90" lengthAdjust="spacingAndGlyphs">% viable undivided cells</text>
<rect x="336.00" y="656.00" width="15.50" height="70.20" fill="#fff" stroke="#1a1a1a" stroke-width="1"/>
<line x1="343.80" y1="621.30" x2="343.80" y2="689.20" stroke="#0d0d0d" stroke-width="1.1"/>
<line x1="340.30" y1="621.30" x2="347.30" y2="621.30" stroke="#0d0d0d" stroke-width="1.1"/>
<line x1="340.30" y1="689.20" x2="347.30" y2="689.20" stroke="#0d0d0d" stroke-width="1.1"/>
<rect x="374.75" y="721.25" width="15.50" height="4.95" fill="#fff" stroke="#1a1a1a" stroke-width="1"/>
<line x1="382.50" y1="718.20" x2="382.50" y2="724.20" stroke="#0d0d0d" stroke-width="1.1"/>
<line x1="380.00" y1="718.20" x2="385.00" y2="718.20" stroke="#0d0d0d" stroke-width="1.1"/>
<line x1="380.00" y1="724.20" x2="385.00" y2="724.20" stroke="#0d0d0d" stroke-width="1.1"/>
<rect x="414.25" y="696.75" width="15.25" height="29.45" fill="url(#hatch)" stroke="#1a1a1a" stroke-width="1"/>
<line x1="421.60" y1="673.80" x2="421.60" y2="718.70" stroke="#0d0d0d" stroke-width="1.1"/>
<line x1="419.10" y1="673.80" x2="424.10" y2="673.80" stroke="#0d0d0d" stroke-width="1.1"/>
<line x1="419.10" y1="718.70" x2="424.10" y2="718.70" stroke="#0d0d0d" stroke-width="1.1"/>
<rect x="453.00" y="698.00" width="15.25" height="28.20" fill="url(#hatch)" stroke="#1a1a1a" stroke-width="1"/>
<line x1="460.60" y1="678.30" x2="460.60" y2="717.50" stroke="#0d0d0d" stroke-width="1.1"/>
<line x1="458.10" y1="678.30" x2="463.10" y2="678.30" stroke="#0d0d0d" stroke-width="1.1"/>
<line x1="458.10" y1="717.50" x2="463.10" y2="717.50" stroke="#0d0d0d" stroke-width="1.1"/>
<rect x="491.75" y="695.00" width="15.25" height="31.20" fill="url(#hatch)" stroke="#1a1a1a" stroke-width="1"/>
<line x1="499.40" y1="675.00" x2="499.40" y2="714.20" stroke="#0d0d0d" stroke-width="1.1"/>
<line x1="496.90" y1="675.00" x2="501.90" y2="675.00" stroke="#0d0d0d" stroke-width="1.1"/>
<line x1="496.90" y1="714.20" x2="501.90" y2="714.20" stroke="#0d0d0d" stroke-width="1.1"/>
<text x="346.25" y="738.20" font-size="8.4" text-anchor="middle" font-weight="bold" fill="#0d0d0d" >5.0</text>
<text x="375.00" y="738.20" font-size="8.4" font-weight="bold" fill="#0d0d0d" textLength="27.00" lengthAdjust="spacingAndGlyphs">control</text>
<text x="422.50" y="738.50" font-size="8.4" text-anchor="middle" font-weight="bold" fill="#0d0d0d" >.05</text>
<text x="461.25" y="738.50" font-size="8.4" text-anchor="middle" font-weight="bold" fill="#0d0d0d" >.1</text>
<text x="500.75" y="738.50" font-size="8.4" text-anchor="middle" font-weight="bold" fill="#0d0d0d" >.5</text>
<polyline points="410.50,733.80 410.50,740.00 511.75,740.00 511.75,733.80" fill="none" stroke="#0d0d0d" stroke-width="1"/>
<text x="327.00" y="751.60" font-size="8.4" font-weight="bold" fill="#0d0d0d" textLength="47.25" lengthAdjust="spacingAndGlyphs">µM Imatinib</text>
<rect x="327.00" y="752.10" width="47.25" height="1" fill="#0d0d0d"/>
<text x="438.75" y="751.60" font-size="8.4" font-weight="bold" fill="#0d0d0d" textLength="45.00" lengthAdjust="spacingAndGlyphs">µM SKI-606</text>
<rect x="438.75" y="752.10" width="45.00" height="1" fill="#0d0d0d"/>
</svg>
</body></html>
